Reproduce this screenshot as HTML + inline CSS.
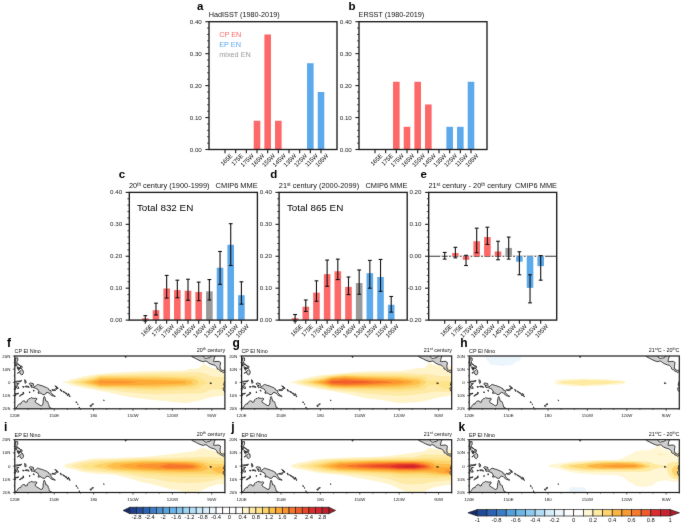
<!DOCTYPE html>
<html><head><meta charset="utf-8"><style>
html,body{margin:0;padding:0;background:#fff;}
body{width:685px;height:523px;overflow:hidden;}
svg{display:block;font-family:"Liberation Sans", sans-serif;will-change:transform;}
</style></head><body>
<svg width="685" height="523" viewBox="0 0 685 523">
<filter id="soft" x="0" y="0" width="100%" height="100%" color-interpolation-filters="sRGB"><feConvolveMatrix order="3" kernelMatrix="0.00524 0.06192 0.00524 0.06192 0.73137 0.06192 0.00524 0.06192 0.00524" edgeMode="duplicate" preserveAlpha="true"/></filter><g filter="url(#soft)"><rect width="685" height="523" fill="#fff"/>
<defs>
<clipPath id="mclip"><rect x="0" y="0" width="210.10" height="52.80"/></clipPath>
<g id="land"><path d="M-1.31,53.46 L-1.31,52.67 L0.00,52.40 L1.31,52.01 L2.36,50.69 L3.02,49.50 L3.94,48.31 L4.73,47.92 L5.78,48.05 L6.30,46.60 L7.62,45.41 L8.93,44.75 L10.24,45.28 L10.77,46.33 L11.82,46.07 L12.61,45.67 L12.47,44.35 L13.52,43.56 L14.31,42.64 L15.49,42.50 L16.41,41.58 L17.46,42.11 L18.65,42.24 L19.96,42.50 L21.01,42.11 L22.06,42.64 L21.80,43.82 L20.88,44.22 L20.35,45.54 L20.48,46.20 L21.67,46.99 L23.11,47.92 L24.29,48.58 L25.34,49.37 L26.52,49.76 L27.44,49.37 L28.10,48.05 L28.36,46.20 L28.36,44.09 L28.76,42.90 L29.02,41.18 L29.54,40.52 L30.07,41.45 L30.46,42.77 L30.86,44.35 L30.99,45.14 L32.17,45.14 L33.22,46.20 L33.35,47.52 L34.01,48.71 L34.27,49.76 L34.53,51.22 L36.11,52.01 L37.29,52.80 L38.08,53.46Z M14.44,27.72 L15.63,26.93 L17.07,27.32 L18.51,27.59 L18.65,29.30 L19.70,30.76 L20.48,30.36 L21.53,29.44 L22.72,28.51 L23.64,28.64 L24.95,29.17 L26.52,29.57 L27.58,29.83 L29.68,30.76 L31.51,31.42 L32.56,32.08 L33.88,32.87 L33.88,33.79 L34.93,34.32 L36.11,34.58 L36.64,35.11 L35.72,36.17 L36.64,37.09 L37.29,38.15 L38.47,38.94 L39.39,39.73 L40.57,40.39 L39.39,40.39 L38.74,40.00 L37.29,39.73 L35.98,38.81 L34.80,37.75 L34.14,36.96 L32.30,36.43 L31.25,36.96 L30.73,38.02 L29.68,38.68 L27.58,38.41 L26.39,37.09 L24.95,37.09 L23.64,37.49 L23.24,36.30 L24.42,36.04 L23.64,34.85 L22.85,33.26 L20.88,32.34 L19.17,31.68 L17.86,31.28 L16.94,31.81 L16.81,30.76 L15.76,30.10 L17.33,29.57 L16.02,29.30 L14.84,28.38Z M37.16,33.66 L38.34,33.79 L39.66,33.53 L40.71,33.00 L41.36,32.08 L42.28,31.94 L42.41,32.74 L41.49,33.66 L40.44,34.58 L38.74,34.58 L37.29,34.19Z M40.05,29.83 L41.10,30.23 L42.41,31.02 L43.33,32.34 L43.07,32.74 L42.15,31.68 L40.71,30.62Z M45.43,33.40 L46.35,33.79 L47.14,34.98 L46.62,35.51 L45.83,34.72Z M48.06,35.11 L49.64,35.90 L50.29,36.43 L49.37,36.56 L48.06,35.64Z M50.16,36.96 L51.60,37.09 L52.26,37.62 L51.08,37.75Z M52.00,38.68 L53.57,39.07 L53.31,39.47 L52.13,39.20Z M53.31,37.49 L54.23,38.15 L54.49,39.20 L53.71,38.68Z M54.23,39.86 L55.54,40.39 L55.15,40.66 L54.36,40.26Z M61.19,45.67 L61.98,46.20 L61.72,46.99 L61.19,46.46Z M62.77,47.78 L63.42,48.31 L63.03,48.71Z M64.21,50.95 L64.74,51.35 L64.60,52.01 L64.21,51.74Z M75.24,49.50 L76.16,49.24 L76.95,49.76 L76.42,50.56 L75.37,50.29Z M76.82,48.31 L78.13,47.78 L78.79,48.05 L77.87,48.71 L76.95,48.71Z M88.63,44.22 L89.55,44.35 L89.29,44.75Z M0.79,1.98 L1.71,1.85 L2.89,1.98 L3.02,3.70 L2.76,5.02 L2.10,5.68 L2.10,7.13 L2.89,7.79 L3.94,8.18 L5.38,9.77 L4.33,9.24 L3.41,8.58 L2.36,8.05 L1.31,8.18 L0.79,7.39 L0.79,6.86 L0.13,6.07 L-0.13,4.88 L0.53,4.88 L0.79,3.70Z M0.39,8.71 L1.58,8.71 L1.97,9.37 L1.58,10.16 L0.92,10.03Z M5.78,9.90 L6.96,10.03 L7.48,11.48 L6.70,11.88 L6.43,13.07 L5.78,12.41 L5.65,11.09Z M2.49,10.82 L3.68,11.09 L4.07,11.75 L3.28,12.54 L2.63,12.41Z M3.15,12.41 L4.20,12.01 L4.46,13.07 L4.07,14.39 L3.28,13.73Z M4.33,11.62 L5.25,12.41 L4.99,12.94 L4.33,12.41Z M2.63,17.16 L3.68,16.50 L4.60,15.58 L5.52,15.05 L6.30,14.52 L7.22,13.46 L8.14,14.26 L8.67,16.50 L8.14,17.95 L7.09,19.01 L5.52,17.95 L5.25,16.90 L4.46,16.10 L3.68,16.76 L2.76,17.29Z M-0.66,27.19 L-0.26,26.00 L0.79,25.34 L1.97,25.21 L3.68,25.21 L5.65,24.82 L6.83,24.29 L6.04,25.74 L4.20,25.74 L2.36,25.74 L1.31,26.80 L2.10,27.59 L4.20,27.59 L3.41,28.38 L1.84,29.04 L3.15,30.36 L4.07,32.34 L2.63,32.47 L1.71,31.94 L1.18,29.96 L0.53,30.10 L0.53,31.68 L0.66,33.66 L-0.66,33.79 L-0.79,32.34 L-0.53,31.02 L-1.44,29.96 L-0.92,28.78Z M9.98,23.63 L10.64,24.55 L11.42,25.08 L10.77,25.61 L11.69,26.14 L11.03,26.80 L10.50,27.46 L10.11,26.27 L9.85,25.08Z M10.50,30.23 L12.21,30.10 L13.92,30.49 L14.31,31.55 L12.47,30.89 L10.77,31.02Z M7.88,30.49 L9.45,30.76 L8.93,31.42 L8.01,31.15Z M4.60,40.00 L5.78,38.94 L6.83,38.28 L9.19,37.49 L8.54,38.15 L6.57,39.20 L5.25,40.13Z M0.00,37.75 L1.97,37.62 L3.81,37.09 L3.41,37.88 L1.31,38.15 L0.00,38.15Z M-0.79,38.81 L1.05,39.34 L0.53,40.00 L-0.66,39.34Z M7.88,36.43 L9.19,36.56 L8.54,36.96Z M14.58,35.77 L15.36,36.04 L14.71,36.96Z M18.65,34.06 L19.30,34.19 L19.17,35.38 L18.51,34.72Z M110.30,-0.53 L110.56,0.26 L111.61,0.79 L111.09,1.45 L110.43,1.06Z M175.30,-1.32 L176.87,0.00 L177.27,0.79 L178.58,1.45 L180.55,2.38 L181.86,3.04 L183.83,4.09 L186.46,5.15 L188.43,5.68 L190.14,5.15 L191.06,5.02 L192.37,5.68 L194.08,7.13 L195.91,8.05 L198.28,8.84 L199.99,9.24 L200.90,10.16 L202.22,11.48 L202.48,12.94 L203.53,13.60 L203.92,13.33 L205.11,14.26 L205.50,15.18 L207.08,15.58 L208.52,16.63 L209.44,15.97 L210.75,15.84 L211.41,13.99 L209.44,14.12 L208.13,14.52 L206.81,13.86 L205.76,13.20 L205.37,12.01 L205.24,10.56 L205.37,9.24 L205.63,7.92 L205.89,6.60 L204.19,5.41 L202.22,5.41 L199.59,5.68 L198.67,5.41 L199.07,4.62 L199.20,3.30 L199.59,1.98 L200.38,0.00 L200.77,-1.32 L196.44,-1.32 L196.44,0.00 L195.52,1.32 L194.47,1.85 L193.03,1.98 L191.71,2.38 L191.19,2.51 L189.74,1.85 L188.82,1.06 L188.56,0.00 L188.17,-1.32Z M211.41,24.42 L210.10,25.21 L209.44,26.40 L209.18,27.72 L208.91,29.30 L209.70,29.70 L210.23,30.36 L209.44,31.02 L208.65,31.94 L208.39,32.60 L208.65,33.13 L208.52,34.06 L209.31,34.85 L210.36,36.30 L211.41,37.62Z M195.26,26.66 L195.91,26.80 L195.65,27.72 L195.39,27.59Z M196.44,27.06 L196.83,27.19 L196.57,27.59Z" fill="#cfcfcf" stroke="#111" stroke-width="0.8" stroke-linejoin="round"/></g>
</defs>
<rect x="253.70" y="120.75" width="6.60" height="28.75" fill="#fd6868"/>
<rect x="264.37" y="34.48" width="6.60" height="115.02" fill="#fd6868"/>
<rect x="275.03" y="120.75" width="6.60" height="28.75" fill="#fd6868"/>
<rect x="307.03" y="63.23" width="6.60" height="86.27" fill="#5ca9ec"/>
<rect x="317.70" y="91.99" width="6.60" height="57.51" fill="#5ca9ec"/>
<rect x="209.00" y="21.70" width="128.00" height="127.80" fill="none" stroke="#1c1c1c" stroke-width="1.35"/>
<line x1="205.40" y1="149.50" x2="209.00" y2="149.50" stroke="#1c1c1c" stroke-width="1.1"/>
<text x="201.80" y="151.55" font-size="6.2" text-anchor="end" font-weight="normal" fill="#1a1a1a">0.00</text>
<line x1="207.10" y1="143.11" x2="209.00" y2="143.11" stroke="#1c1c1c" stroke-width="0.8"/>
<line x1="207.10" y1="136.72" x2="209.00" y2="136.72" stroke="#1c1c1c" stroke-width="0.8"/>
<line x1="207.10" y1="130.33" x2="209.00" y2="130.33" stroke="#1c1c1c" stroke-width="0.8"/>
<line x1="207.10" y1="123.94" x2="209.00" y2="123.94" stroke="#1c1c1c" stroke-width="0.8"/>
<line x1="205.40" y1="117.55" x2="209.00" y2="117.55" stroke="#1c1c1c" stroke-width="1.1"/>
<text x="201.80" y="119.60" font-size="6.2" text-anchor="end" font-weight="normal" fill="#1a1a1a">0.10</text>
<line x1="207.10" y1="111.16" x2="209.00" y2="111.16" stroke="#1c1c1c" stroke-width="0.8"/>
<line x1="207.10" y1="104.77" x2="209.00" y2="104.77" stroke="#1c1c1c" stroke-width="0.8"/>
<line x1="207.10" y1="98.38" x2="209.00" y2="98.38" stroke="#1c1c1c" stroke-width="0.8"/>
<line x1="207.10" y1="91.99" x2="209.00" y2="91.99" stroke="#1c1c1c" stroke-width="0.8"/>
<line x1="205.40" y1="85.60" x2="209.00" y2="85.60" stroke="#1c1c1c" stroke-width="1.1"/>
<text x="201.80" y="87.65" font-size="6.2" text-anchor="end" font-weight="normal" fill="#1a1a1a">0.20</text>
<line x1="207.10" y1="79.21" x2="209.00" y2="79.21" stroke="#1c1c1c" stroke-width="0.8"/>
<line x1="207.10" y1="72.82" x2="209.00" y2="72.82" stroke="#1c1c1c" stroke-width="0.8"/>
<line x1="207.10" y1="66.43" x2="209.00" y2="66.43" stroke="#1c1c1c" stroke-width="0.8"/>
<line x1="207.10" y1="60.04" x2="209.00" y2="60.04" stroke="#1c1c1c" stroke-width="0.8"/>
<line x1="205.40" y1="53.65" x2="209.00" y2="53.65" stroke="#1c1c1c" stroke-width="1.1"/>
<text x="201.80" y="55.70" font-size="6.2" text-anchor="end" font-weight="normal" fill="#1a1a1a">0.30</text>
<line x1="207.10" y1="47.26" x2="209.00" y2="47.26" stroke="#1c1c1c" stroke-width="0.8"/>
<line x1="207.10" y1="40.87" x2="209.00" y2="40.87" stroke="#1c1c1c" stroke-width="0.8"/>
<line x1="207.10" y1="34.48" x2="209.00" y2="34.48" stroke="#1c1c1c" stroke-width="0.8"/>
<line x1="207.10" y1="28.09" x2="209.00" y2="28.09" stroke="#1c1c1c" stroke-width="0.8"/>
<line x1="205.40" y1="21.70" x2="209.00" y2="21.70" stroke="#1c1c1c" stroke-width="1.1"/>
<text x="201.80" y="23.75" font-size="6.2" text-anchor="end" font-weight="normal" fill="#1a1a1a">0.40</text>
<line x1="225.00" y1="149.50" x2="225.00" y2="153.20" stroke="#1c1c1c" stroke-width="1.1"/>
<text x="232.90" y="156.20" font-size="6.0" text-anchor="end" fill="#000" transform="rotate(-45 232.90 156.20)">165E</text>
<line x1="235.67" y1="149.50" x2="235.67" y2="153.20" stroke="#1c1c1c" stroke-width="1.1"/>
<text x="243.57" y="156.20" font-size="6.0" text-anchor="end" fill="#000" transform="rotate(-45 243.57 156.20)">175E</text>
<line x1="246.33" y1="149.50" x2="246.33" y2="153.20" stroke="#1c1c1c" stroke-width="1.1"/>
<text x="254.23" y="156.20" font-size="6.0" text-anchor="end" fill="#000" transform="rotate(-45 254.23 156.20)">175W</text>
<line x1="257.00" y1="149.50" x2="257.00" y2="153.20" stroke="#1c1c1c" stroke-width="1.1"/>
<text x="264.90" y="156.20" font-size="6.0" text-anchor="end" fill="#000" transform="rotate(-45 264.90 156.20)">165W</text>
<line x1="267.67" y1="149.50" x2="267.67" y2="153.20" stroke="#1c1c1c" stroke-width="1.1"/>
<text x="275.57" y="156.20" font-size="6.0" text-anchor="end" fill="#000" transform="rotate(-45 275.57 156.20)">155W</text>
<line x1="278.33" y1="149.50" x2="278.33" y2="153.20" stroke="#1c1c1c" stroke-width="1.1"/>
<text x="286.23" y="156.20" font-size="6.0" text-anchor="end" fill="#000" transform="rotate(-45 286.23 156.20)">145W</text>
<line x1="289.00" y1="149.50" x2="289.00" y2="153.20" stroke="#1c1c1c" stroke-width="1.1"/>
<text x="296.90" y="156.20" font-size="6.0" text-anchor="end" fill="#000" transform="rotate(-45 296.90 156.20)">135W</text>
<line x1="299.67" y1="149.50" x2="299.67" y2="153.20" stroke="#1c1c1c" stroke-width="1.1"/>
<text x="307.57" y="156.20" font-size="6.0" text-anchor="end" fill="#000" transform="rotate(-45 307.57 156.20)">125W</text>
<line x1="310.33" y1="149.50" x2="310.33" y2="153.20" stroke="#1c1c1c" stroke-width="1.1"/>
<text x="318.23" y="156.20" font-size="6.0" text-anchor="end" fill="#000" transform="rotate(-45 318.23 156.20)">115W</text>
<line x1="321.00" y1="149.50" x2="321.00" y2="153.20" stroke="#1c1c1c" stroke-width="1.1"/>
<text x="328.90" y="156.20" font-size="6.0" text-anchor="end" fill="#000" transform="rotate(-45 328.90 156.20)">105W</text>
<text x="197.00" y="10.20" font-size="11.5" text-anchor="start" font-weight="bold" fill="#000">a</text>
<text x="208.70" y="17.40" font-size="7.28" text-anchor="start" font-weight="normal" fill="#111">HadISST (1980-2019)</text>
<text x="219.20" y="37.40" font-size="7.3" text-anchor="start" font-weight="normal" fill="#fd6868">CP EN</text>
<text x="219.20" y="46.80" font-size="7.3" text-anchor="start" font-weight="normal" fill="#5ca9ec">EP EN</text>
<text x="219.20" y="56.60" font-size="7.3" text-anchor="start" font-weight="normal" fill="#9a9a9a">mixed EN</text>
<rect x="393.03" y="81.77" width="6.60" height="67.73" fill="#fd6868"/>
<rect x="403.70" y="126.82" width="6.60" height="22.68" fill="#fd6868"/>
<rect x="414.37" y="81.77" width="6.60" height="67.73" fill="#fd6868"/>
<rect x="425.03" y="104.45" width="6.60" height="45.05" fill="#fd6868"/>
<rect x="446.37" y="126.82" width="6.60" height="22.68" fill="#5ca9ec"/>
<rect x="457.03" y="126.82" width="6.60" height="22.68" fill="#5ca9ec"/>
<rect x="467.70" y="81.77" width="6.60" height="67.73" fill="#5ca9ec"/>
<rect x="359.00" y="21.70" width="128.00" height="127.80" fill="none" stroke="#1c1c1c" stroke-width="1.35"/>
<line x1="355.40" y1="149.50" x2="359.00" y2="149.50" stroke="#1c1c1c" stroke-width="1.1"/>
<text x="351.80" y="151.55" font-size="6.2" text-anchor="end" font-weight="normal" fill="#1a1a1a">0.00</text>
<line x1="357.10" y1="143.11" x2="359.00" y2="143.11" stroke="#1c1c1c" stroke-width="0.8"/>
<line x1="357.10" y1="136.72" x2="359.00" y2="136.72" stroke="#1c1c1c" stroke-width="0.8"/>
<line x1="357.10" y1="130.33" x2="359.00" y2="130.33" stroke="#1c1c1c" stroke-width="0.8"/>
<line x1="357.10" y1="123.94" x2="359.00" y2="123.94" stroke="#1c1c1c" stroke-width="0.8"/>
<line x1="355.40" y1="117.55" x2="359.00" y2="117.55" stroke="#1c1c1c" stroke-width="1.1"/>
<text x="351.80" y="119.60" font-size="6.2" text-anchor="end" font-weight="normal" fill="#1a1a1a">0.10</text>
<line x1="357.10" y1="111.16" x2="359.00" y2="111.16" stroke="#1c1c1c" stroke-width="0.8"/>
<line x1="357.10" y1="104.77" x2="359.00" y2="104.77" stroke="#1c1c1c" stroke-width="0.8"/>
<line x1="357.10" y1="98.38" x2="359.00" y2="98.38" stroke="#1c1c1c" stroke-width="0.8"/>
<line x1="357.10" y1="91.99" x2="359.00" y2="91.99" stroke="#1c1c1c" stroke-width="0.8"/>
<line x1="355.40" y1="85.60" x2="359.00" y2="85.60" stroke="#1c1c1c" stroke-width="1.1"/>
<text x="351.80" y="87.65" font-size="6.2" text-anchor="end" font-weight="normal" fill="#1a1a1a">0.20</text>
<line x1="357.10" y1="79.21" x2="359.00" y2="79.21" stroke="#1c1c1c" stroke-width="0.8"/>
<line x1="357.10" y1="72.82" x2="359.00" y2="72.82" stroke="#1c1c1c" stroke-width="0.8"/>
<line x1="357.10" y1="66.43" x2="359.00" y2="66.43" stroke="#1c1c1c" stroke-width="0.8"/>
<line x1="357.10" y1="60.04" x2="359.00" y2="60.04" stroke="#1c1c1c" stroke-width="0.8"/>
<line x1="355.40" y1="53.65" x2="359.00" y2="53.65" stroke="#1c1c1c" stroke-width="1.1"/>
<text x="351.80" y="55.70" font-size="6.2" text-anchor="end" font-weight="normal" fill="#1a1a1a">0.30</text>
<line x1="357.10" y1="47.26" x2="359.00" y2="47.26" stroke="#1c1c1c" stroke-width="0.8"/>
<line x1="357.10" y1="40.87" x2="359.00" y2="40.87" stroke="#1c1c1c" stroke-width="0.8"/>
<line x1="357.10" y1="34.48" x2="359.00" y2="34.48" stroke="#1c1c1c" stroke-width="0.8"/>
<line x1="357.10" y1="28.09" x2="359.00" y2="28.09" stroke="#1c1c1c" stroke-width="0.8"/>
<line x1="355.40" y1="21.70" x2="359.00" y2="21.70" stroke="#1c1c1c" stroke-width="1.1"/>
<text x="351.80" y="23.75" font-size="6.2" text-anchor="end" font-weight="normal" fill="#1a1a1a">0.40</text>
<line x1="375.00" y1="149.50" x2="375.00" y2="153.20" stroke="#1c1c1c" stroke-width="1.1"/>
<text x="382.90" y="156.20" font-size="6.0" text-anchor="end" fill="#000" transform="rotate(-45 382.90 156.20)">165E</text>
<line x1="385.67" y1="149.50" x2="385.67" y2="153.20" stroke="#1c1c1c" stroke-width="1.1"/>
<text x="393.57" y="156.20" font-size="6.0" text-anchor="end" fill="#000" transform="rotate(-45 393.57 156.20)">175E</text>
<line x1="396.33" y1="149.50" x2="396.33" y2="153.20" stroke="#1c1c1c" stroke-width="1.1"/>
<text x="404.23" y="156.20" font-size="6.0" text-anchor="end" fill="#000" transform="rotate(-45 404.23 156.20)">175W</text>
<line x1="407.00" y1="149.50" x2="407.00" y2="153.20" stroke="#1c1c1c" stroke-width="1.1"/>
<text x="414.90" y="156.20" font-size="6.0" text-anchor="end" fill="#000" transform="rotate(-45 414.90 156.20)">165W</text>
<line x1="417.67" y1="149.50" x2="417.67" y2="153.20" stroke="#1c1c1c" stroke-width="1.1"/>
<text x="425.57" y="156.20" font-size="6.0" text-anchor="end" fill="#000" transform="rotate(-45 425.57 156.20)">155W</text>
<line x1="428.33" y1="149.50" x2="428.33" y2="153.20" stroke="#1c1c1c" stroke-width="1.1"/>
<text x="436.23" y="156.20" font-size="6.0" text-anchor="end" fill="#000" transform="rotate(-45 436.23 156.20)">145W</text>
<line x1="439.00" y1="149.50" x2="439.00" y2="153.20" stroke="#1c1c1c" stroke-width="1.1"/>
<text x="446.90" y="156.20" font-size="6.0" text-anchor="end" fill="#000" transform="rotate(-45 446.90 156.20)">135W</text>
<line x1="449.67" y1="149.50" x2="449.67" y2="153.20" stroke="#1c1c1c" stroke-width="1.1"/>
<text x="457.57" y="156.20" font-size="6.0" text-anchor="end" fill="#000" transform="rotate(-45 457.57 156.20)">125W</text>
<line x1="460.33" y1="149.50" x2="460.33" y2="153.20" stroke="#1c1c1c" stroke-width="1.1"/>
<text x="468.23" y="156.20" font-size="6.0" text-anchor="end" fill="#000" transform="rotate(-45 468.23 156.20)">115W</text>
<line x1="471.00" y1="149.50" x2="471.00" y2="153.20" stroke="#1c1c1c" stroke-width="1.1"/>
<text x="478.90" y="156.20" font-size="6.0" text-anchor="end" fill="#000" transform="rotate(-45 478.90 156.20)">105W</text>
<text x="348.40" y="10.20" font-size="11.5" text-anchor="start" font-weight="bold" fill="#000">b</text>
<text x="358.60" y="17.40" font-size="7.28" text-anchor="start" font-weight="normal" fill="#111">ERSST (1980-2019)</text>
<rect x="142.00" y="318.31" width="6.60" height="1.79" fill="#fd6868"/>
<rect x="152.68" y="310.20" width="6.60" height="9.90" fill="#fd6868"/>
<rect x="163.36" y="288.49" width="6.60" height="31.61" fill="#fd6868"/>
<rect x="174.03" y="290.09" width="6.60" height="30.01" fill="#fd6868"/>
<rect x="184.71" y="290.73" width="6.60" height="29.37" fill="#fd6868"/>
<rect x="195.39" y="292.01" width="6.60" height="28.09" fill="#fd6868"/>
<rect x="206.07" y="291.37" width="6.60" height="28.73" fill="#9a9a9a"/>
<rect x="216.74" y="267.74" width="6.60" height="52.36" fill="#5ca9ec"/>
<rect x="227.42" y="244.76" width="6.60" height="75.34" fill="#5ca9ec"/>
<rect x="238.10" y="295.20" width="6.60" height="24.90" fill="#5ca9ec"/>
<line x1="145.30" y1="321.06" x2="145.30" y2="315.63" stroke="#111" stroke-width="1.1"/>
<line x1="143.40" y1="321.06" x2="147.20" y2="321.06" stroke="#111" stroke-width="1.1"/>
<line x1="143.40" y1="315.63" x2="147.20" y2="315.63" stroke="#111" stroke-width="1.1"/>
<line x1="155.98" y1="314.99" x2="155.98" y2="303.18" stroke="#111" stroke-width="1.1"/>
<line x1="154.08" y1="314.99" x2="157.88" y2="314.99" stroke="#111" stroke-width="1.1"/>
<line x1="154.08" y1="303.18" x2="157.88" y2="303.18" stroke="#111" stroke-width="1.1"/>
<line x1="166.66" y1="298.07" x2="166.66" y2="275.41" stroke="#111" stroke-width="1.1"/>
<line x1="164.76" y1="298.07" x2="168.56" y2="298.07" stroke="#111" stroke-width="1.1"/>
<line x1="164.76" y1="275.41" x2="168.56" y2="275.41" stroke="#111" stroke-width="1.1"/>
<line x1="177.33" y1="297.75" x2="177.33" y2="280.19" stroke="#111" stroke-width="1.1"/>
<line x1="175.43" y1="297.75" x2="179.23" y2="297.75" stroke="#111" stroke-width="1.1"/>
<line x1="175.43" y1="280.19" x2="179.23" y2="280.19" stroke="#111" stroke-width="1.1"/>
<line x1="188.01" y1="300.31" x2="188.01" y2="279.24" stroke="#111" stroke-width="1.1"/>
<line x1="186.11" y1="300.31" x2="189.91" y2="300.31" stroke="#111" stroke-width="1.1"/>
<line x1="186.11" y1="279.24" x2="189.91" y2="279.24" stroke="#111" stroke-width="1.1"/>
<line x1="198.69" y1="300.63" x2="198.69" y2="282.11" stroke="#111" stroke-width="1.1"/>
<line x1="196.79" y1="300.63" x2="200.59" y2="300.63" stroke="#111" stroke-width="1.1"/>
<line x1="196.79" y1="282.11" x2="200.59" y2="282.11" stroke="#111" stroke-width="1.1"/>
<line x1="209.37" y1="299.99" x2="209.37" y2="279.56" stroke="#111" stroke-width="1.1"/>
<line x1="207.47" y1="299.99" x2="211.27" y2="299.99" stroke="#111" stroke-width="1.1"/>
<line x1="207.47" y1="279.56" x2="211.27" y2="279.56" stroke="#111" stroke-width="1.1"/>
<line x1="220.04" y1="284.34" x2="220.04" y2="251.46" stroke="#111" stroke-width="1.1"/>
<line x1="218.14" y1="284.34" x2="221.94" y2="284.34" stroke="#111" stroke-width="1.1"/>
<line x1="218.14" y1="251.46" x2="221.94" y2="251.46" stroke="#111" stroke-width="1.1"/>
<line x1="230.72" y1="265.51" x2="230.72" y2="223.69" stroke="#111" stroke-width="1.1"/>
<line x1="228.82" y1="265.51" x2="232.62" y2="265.51" stroke="#111" stroke-width="1.1"/>
<line x1="228.82" y1="223.69" x2="232.62" y2="223.69" stroke="#111" stroke-width="1.1"/>
<line x1="241.40" y1="304.14" x2="241.40" y2="281.79" stroke="#111" stroke-width="1.1"/>
<line x1="239.50" y1="304.14" x2="243.30" y2="304.14" stroke="#111" stroke-width="1.1"/>
<line x1="239.50" y1="281.79" x2="243.30" y2="281.79" stroke="#111" stroke-width="1.1"/>
<rect x="129.30" y="192.40" width="128.10" height="127.70" fill="none" stroke="#1c1c1c" stroke-width="1.35"/>
<line x1="125.70" y1="320.10" x2="129.30" y2="320.10" stroke="#1c1c1c" stroke-width="1.1"/>
<text x="122.10" y="322.15" font-size="6.2" text-anchor="end" font-weight="normal" fill="#1a1a1a">0.00</text>
<line x1="127.40" y1="313.72" x2="129.30" y2="313.72" stroke="#1c1c1c" stroke-width="0.8"/>
<line x1="127.40" y1="307.33" x2="129.30" y2="307.33" stroke="#1c1c1c" stroke-width="0.8"/>
<line x1="127.40" y1="300.95" x2="129.30" y2="300.95" stroke="#1c1c1c" stroke-width="0.8"/>
<line x1="127.40" y1="294.56" x2="129.30" y2="294.56" stroke="#1c1c1c" stroke-width="0.8"/>
<line x1="125.70" y1="288.18" x2="129.30" y2="288.18" stroke="#1c1c1c" stroke-width="1.1"/>
<text x="122.10" y="290.23" font-size="6.2" text-anchor="end" font-weight="normal" fill="#1a1a1a">0.10</text>
<line x1="127.40" y1="281.79" x2="129.30" y2="281.79" stroke="#1c1c1c" stroke-width="0.8"/>
<line x1="127.40" y1="275.41" x2="129.30" y2="275.41" stroke="#1c1c1c" stroke-width="0.8"/>
<line x1="127.40" y1="269.02" x2="129.30" y2="269.02" stroke="#1c1c1c" stroke-width="0.8"/>
<line x1="127.40" y1="262.64" x2="129.30" y2="262.64" stroke="#1c1c1c" stroke-width="0.8"/>
<line x1="125.70" y1="256.25" x2="129.30" y2="256.25" stroke="#1c1c1c" stroke-width="1.1"/>
<text x="122.10" y="258.30" font-size="6.2" text-anchor="end" font-weight="normal" fill="#1a1a1a">0.20</text>
<line x1="127.40" y1="249.87" x2="129.30" y2="249.87" stroke="#1c1c1c" stroke-width="0.8"/>
<line x1="127.40" y1="243.48" x2="129.30" y2="243.48" stroke="#1c1c1c" stroke-width="0.8"/>
<line x1="127.40" y1="237.10" x2="129.30" y2="237.10" stroke="#1c1c1c" stroke-width="0.8"/>
<line x1="127.40" y1="230.71" x2="129.30" y2="230.71" stroke="#1c1c1c" stroke-width="0.8"/>
<line x1="125.70" y1="224.33" x2="129.30" y2="224.33" stroke="#1c1c1c" stroke-width="1.1"/>
<text x="122.10" y="226.38" font-size="6.2" text-anchor="end" font-weight="normal" fill="#1a1a1a">0.30</text>
<line x1="127.40" y1="217.94" x2="129.30" y2="217.94" stroke="#1c1c1c" stroke-width="0.8"/>
<line x1="127.40" y1="211.56" x2="129.30" y2="211.56" stroke="#1c1c1c" stroke-width="0.8"/>
<line x1="127.40" y1="205.17" x2="129.30" y2="205.17" stroke="#1c1c1c" stroke-width="0.8"/>
<line x1="127.40" y1="198.79" x2="129.30" y2="198.79" stroke="#1c1c1c" stroke-width="0.8"/>
<line x1="125.70" y1="192.40" x2="129.30" y2="192.40" stroke="#1c1c1c" stroke-width="1.1"/>
<text x="122.10" y="194.45" font-size="6.2" text-anchor="end" font-weight="normal" fill="#1a1a1a">0.40</text>
<line x1="145.30" y1="320.10" x2="145.30" y2="323.80" stroke="#1c1c1c" stroke-width="1.1"/>
<text x="153.20" y="326.80" font-size="6.0" text-anchor="end" fill="#000" transform="rotate(-45 153.20 326.80)">165E</text>
<line x1="155.98" y1="320.10" x2="155.98" y2="323.80" stroke="#1c1c1c" stroke-width="1.1"/>
<text x="163.88" y="326.80" font-size="6.0" text-anchor="end" fill="#000" transform="rotate(-45 163.88 326.80)">175E</text>
<line x1="166.66" y1="320.10" x2="166.66" y2="323.80" stroke="#1c1c1c" stroke-width="1.1"/>
<text x="174.56" y="326.80" font-size="6.0" text-anchor="end" fill="#000" transform="rotate(-45 174.56 326.80)">175W</text>
<line x1="177.33" y1="320.10" x2="177.33" y2="323.80" stroke="#1c1c1c" stroke-width="1.1"/>
<text x="185.23" y="326.80" font-size="6.0" text-anchor="end" fill="#000" transform="rotate(-45 185.23 326.80)">165W</text>
<line x1="188.01" y1="320.10" x2="188.01" y2="323.80" stroke="#1c1c1c" stroke-width="1.1"/>
<text x="195.91" y="326.80" font-size="6.0" text-anchor="end" fill="#000" transform="rotate(-45 195.91 326.80)">155W</text>
<line x1="198.69" y1="320.10" x2="198.69" y2="323.80" stroke="#1c1c1c" stroke-width="1.1"/>
<text x="206.59" y="326.80" font-size="6.0" text-anchor="end" fill="#000" transform="rotate(-45 206.59 326.80)">145W</text>
<line x1="209.37" y1="320.10" x2="209.37" y2="323.80" stroke="#1c1c1c" stroke-width="1.1"/>
<text x="217.27" y="326.80" font-size="6.0" text-anchor="end" fill="#000" transform="rotate(-45 217.27 326.80)">135W</text>
<line x1="220.04" y1="320.10" x2="220.04" y2="323.80" stroke="#1c1c1c" stroke-width="1.1"/>
<text x="227.94" y="326.80" font-size="6.0" text-anchor="end" fill="#000" transform="rotate(-45 227.94 326.80)">125W</text>
<line x1="230.72" y1="320.10" x2="230.72" y2="323.80" stroke="#1c1c1c" stroke-width="1.1"/>
<text x="238.62" y="326.80" font-size="6.0" text-anchor="end" fill="#000" transform="rotate(-45 238.62 326.80)">115W</text>
<line x1="241.40" y1="320.10" x2="241.40" y2="323.80" stroke="#1c1c1c" stroke-width="1.1"/>
<text x="249.30" y="326.80" font-size="6.0" text-anchor="end" fill="#000" transform="rotate(-45 249.30 326.80)">105W</text>
<text x="118.80" y="178.20" font-size="11.5" text-anchor="start" font-weight="bold" fill="#000">c</text>
<text x="128.90" y="188.30" font-size="7.38" text-anchor="start" font-weight="normal" fill="#111">20<tspan font-size="4.7" dy="-2.7">th</tspan><tspan dy="2.7"> century (1900-1999)</tspan></text>
<text x="257.60" y="188.30" font-size="7.42" text-anchor="end" font-weight="normal" fill="#111">CMIP6 MME</text>
<text x="136.90" y="210.70" font-size="9.85" text-anchor="start" font-weight="normal" fill="#000">Total 832 EN</text>
<rect x="291.80" y="318.18" width="6.60" height="1.92" fill="#fd6868"/>
<rect x="302.48" y="306.69" width="6.60" height="13.41" fill="#fd6868"/>
<rect x="313.16" y="292.64" width="6.60" height="27.46" fill="#fd6868"/>
<rect x="323.83" y="274.13" width="6.60" height="45.97" fill="#fd6868"/>
<rect x="334.51" y="271.25" width="6.60" height="48.85" fill="#fd6868"/>
<rect x="345.19" y="286.90" width="6.60" height="33.20" fill="#fd6868"/>
<rect x="355.87" y="283.07" width="6.60" height="37.03" fill="#9a9a9a"/>
<rect x="366.54" y="273.17" width="6.60" height="46.93" fill="#5ca9ec"/>
<rect x="377.22" y="277.00" width="6.60" height="43.10" fill="#5ca9ec"/>
<rect x="387.90" y="304.78" width="6.60" height="15.32" fill="#5ca9ec"/>
<line x1="295.10" y1="321.06" x2="295.10" y2="314.51" stroke="#111" stroke-width="1.1"/>
<line x1="293.20" y1="321.06" x2="297.00" y2="321.06" stroke="#111" stroke-width="1.1"/>
<line x1="293.20" y1="314.51" x2="297.00" y2="314.51" stroke="#111" stroke-width="1.1"/>
<line x1="305.78" y1="311.48" x2="305.78" y2="299.99" stroke="#111" stroke-width="1.1"/>
<line x1="303.88" y1="311.48" x2="307.68" y2="311.48" stroke="#111" stroke-width="1.1"/>
<line x1="303.88" y1="299.99" x2="307.68" y2="299.99" stroke="#111" stroke-width="1.1"/>
<line x1="316.46" y1="301.26" x2="316.46" y2="280.83" stroke="#111" stroke-width="1.1"/>
<line x1="314.56" y1="301.26" x2="318.36" y2="301.26" stroke="#111" stroke-width="1.1"/>
<line x1="314.56" y1="280.83" x2="318.36" y2="280.83" stroke="#111" stroke-width="1.1"/>
<line x1="327.13" y1="286.26" x2="327.13" y2="260.08" stroke="#111" stroke-width="1.1"/>
<line x1="325.23" y1="286.26" x2="329.03" y2="286.26" stroke="#111" stroke-width="1.1"/>
<line x1="325.23" y1="260.08" x2="329.03" y2="260.08" stroke="#111" stroke-width="1.1"/>
<line x1="337.81" y1="279.56" x2="337.81" y2="259.12" stroke="#111" stroke-width="1.1"/>
<line x1="335.91" y1="279.56" x2="339.71" y2="279.56" stroke="#111" stroke-width="1.1"/>
<line x1="335.91" y1="259.12" x2="339.71" y2="259.12" stroke="#111" stroke-width="1.1"/>
<line x1="348.49" y1="294.56" x2="348.49" y2="277.00" stroke="#111" stroke-width="1.1"/>
<line x1="346.59" y1="294.56" x2="350.39" y2="294.56" stroke="#111" stroke-width="1.1"/>
<line x1="346.59" y1="277.00" x2="350.39" y2="277.00" stroke="#111" stroke-width="1.1"/>
<line x1="359.17" y1="294.24" x2="359.17" y2="269.98" stroke="#111" stroke-width="1.1"/>
<line x1="357.27" y1="294.24" x2="361.07" y2="294.24" stroke="#111" stroke-width="1.1"/>
<line x1="357.27" y1="269.98" x2="361.07" y2="269.98" stroke="#111" stroke-width="1.1"/>
<line x1="369.84" y1="288.18" x2="369.84" y2="260.40" stroke="#111" stroke-width="1.1"/>
<line x1="367.94" y1="288.18" x2="371.74" y2="288.18" stroke="#111" stroke-width="1.1"/>
<line x1="367.94" y1="260.40" x2="371.74" y2="260.40" stroke="#111" stroke-width="1.1"/>
<line x1="380.52" y1="291.37" x2="380.52" y2="259.44" stroke="#111" stroke-width="1.1"/>
<line x1="378.62" y1="291.37" x2="382.42" y2="291.37" stroke="#111" stroke-width="1.1"/>
<line x1="378.62" y1="259.44" x2="382.42" y2="259.44" stroke="#111" stroke-width="1.1"/>
<line x1="391.20" y1="312.12" x2="391.20" y2="296.48" stroke="#111" stroke-width="1.1"/>
<line x1="389.30" y1="312.12" x2="393.10" y2="312.12" stroke="#111" stroke-width="1.1"/>
<line x1="389.30" y1="296.48" x2="393.10" y2="296.48" stroke="#111" stroke-width="1.1"/>
<rect x="279.10" y="192.40" width="128.10" height="127.70" fill="none" stroke="#1c1c1c" stroke-width="1.35"/>
<line x1="275.50" y1="320.10" x2="279.10" y2="320.10" stroke="#1c1c1c" stroke-width="1.1"/>
<text x="271.90" y="322.15" font-size="6.2" text-anchor="end" font-weight="normal" fill="#1a1a1a">0.00</text>
<line x1="277.20" y1="313.72" x2="279.10" y2="313.72" stroke="#1c1c1c" stroke-width="0.8"/>
<line x1="277.20" y1="307.33" x2="279.10" y2="307.33" stroke="#1c1c1c" stroke-width="0.8"/>
<line x1="277.20" y1="300.95" x2="279.10" y2="300.95" stroke="#1c1c1c" stroke-width="0.8"/>
<line x1="277.20" y1="294.56" x2="279.10" y2="294.56" stroke="#1c1c1c" stroke-width="0.8"/>
<line x1="275.50" y1="288.18" x2="279.10" y2="288.18" stroke="#1c1c1c" stroke-width="1.1"/>
<text x="271.90" y="290.23" font-size="6.2" text-anchor="end" font-weight="normal" fill="#1a1a1a">0.10</text>
<line x1="277.20" y1="281.79" x2="279.10" y2="281.79" stroke="#1c1c1c" stroke-width="0.8"/>
<line x1="277.20" y1="275.41" x2="279.10" y2="275.41" stroke="#1c1c1c" stroke-width="0.8"/>
<line x1="277.20" y1="269.02" x2="279.10" y2="269.02" stroke="#1c1c1c" stroke-width="0.8"/>
<line x1="277.20" y1="262.64" x2="279.10" y2="262.64" stroke="#1c1c1c" stroke-width="0.8"/>
<line x1="275.50" y1="256.25" x2="279.10" y2="256.25" stroke="#1c1c1c" stroke-width="1.1"/>
<text x="271.90" y="258.30" font-size="6.2" text-anchor="end" font-weight="normal" fill="#1a1a1a">0.20</text>
<line x1="277.20" y1="249.87" x2="279.10" y2="249.87" stroke="#1c1c1c" stroke-width="0.8"/>
<line x1="277.20" y1="243.48" x2="279.10" y2="243.48" stroke="#1c1c1c" stroke-width="0.8"/>
<line x1="277.20" y1="237.10" x2="279.10" y2="237.10" stroke="#1c1c1c" stroke-width="0.8"/>
<line x1="277.20" y1="230.71" x2="279.10" y2="230.71" stroke="#1c1c1c" stroke-width="0.8"/>
<line x1="275.50" y1="224.33" x2="279.10" y2="224.33" stroke="#1c1c1c" stroke-width="1.1"/>
<text x="271.90" y="226.38" font-size="6.2" text-anchor="end" font-weight="normal" fill="#1a1a1a">0.30</text>
<line x1="277.20" y1="217.94" x2="279.10" y2="217.94" stroke="#1c1c1c" stroke-width="0.8"/>
<line x1="277.20" y1="211.56" x2="279.10" y2="211.56" stroke="#1c1c1c" stroke-width="0.8"/>
<line x1="277.20" y1="205.17" x2="279.10" y2="205.17" stroke="#1c1c1c" stroke-width="0.8"/>
<line x1="277.20" y1="198.79" x2="279.10" y2="198.79" stroke="#1c1c1c" stroke-width="0.8"/>
<line x1="275.50" y1="192.40" x2="279.10" y2="192.40" stroke="#1c1c1c" stroke-width="1.1"/>
<text x="271.90" y="194.45" font-size="6.2" text-anchor="end" font-weight="normal" fill="#1a1a1a">0.40</text>
<line x1="295.10" y1="320.10" x2="295.10" y2="323.80" stroke="#1c1c1c" stroke-width="1.1"/>
<text x="303.00" y="326.80" font-size="6.0" text-anchor="end" fill="#000" transform="rotate(-45 303.00 326.80)">165E</text>
<line x1="305.78" y1="320.10" x2="305.78" y2="323.80" stroke="#1c1c1c" stroke-width="1.1"/>
<text x="313.68" y="326.80" font-size="6.0" text-anchor="end" fill="#000" transform="rotate(-45 313.68 326.80)">175E</text>
<line x1="316.46" y1="320.10" x2="316.46" y2="323.80" stroke="#1c1c1c" stroke-width="1.1"/>
<text x="324.36" y="326.80" font-size="6.0" text-anchor="end" fill="#000" transform="rotate(-45 324.36 326.80)">175W</text>
<line x1="327.13" y1="320.10" x2="327.13" y2="323.80" stroke="#1c1c1c" stroke-width="1.1"/>
<text x="335.03" y="326.80" font-size="6.0" text-anchor="end" fill="#000" transform="rotate(-45 335.03 326.80)">165W</text>
<line x1="337.81" y1="320.10" x2="337.81" y2="323.80" stroke="#1c1c1c" stroke-width="1.1"/>
<text x="345.71" y="326.80" font-size="6.0" text-anchor="end" fill="#000" transform="rotate(-45 345.71 326.80)">155W</text>
<line x1="348.49" y1="320.10" x2="348.49" y2="323.80" stroke="#1c1c1c" stroke-width="1.1"/>
<text x="356.39" y="326.80" font-size="6.0" text-anchor="end" fill="#000" transform="rotate(-45 356.39 326.80)">145W</text>
<line x1="359.17" y1="320.10" x2="359.17" y2="323.80" stroke="#1c1c1c" stroke-width="1.1"/>
<text x="367.07" y="326.80" font-size="6.0" text-anchor="end" fill="#000" transform="rotate(-45 367.07 326.80)">135W</text>
<line x1="369.84" y1="320.10" x2="369.84" y2="323.80" stroke="#1c1c1c" stroke-width="1.1"/>
<text x="377.74" y="326.80" font-size="6.0" text-anchor="end" fill="#000" transform="rotate(-45 377.74 326.80)">125W</text>
<line x1="380.52" y1="320.10" x2="380.52" y2="323.80" stroke="#1c1c1c" stroke-width="1.1"/>
<text x="388.42" y="326.80" font-size="6.0" text-anchor="end" fill="#000" transform="rotate(-45 388.42 326.80)">115W</text>
<line x1="391.20" y1="320.10" x2="391.20" y2="323.80" stroke="#1c1c1c" stroke-width="1.1"/>
<text x="399.10" y="326.80" font-size="6.0" text-anchor="end" fill="#000" transform="rotate(-45 399.10 326.80)">105W</text>
<text x="270.30" y="178.20" font-size="11.5" text-anchor="start" font-weight="bold" fill="#000">d</text>
<text x="278.80" y="188.30" font-size="7.38" text-anchor="start" font-weight="normal" fill="#111">21<tspan font-size="4.7" dy="-2.7">st</tspan><tspan dy="2.7"> century (2000-2099)</tspan></text>
<text x="407.40" y="188.30" font-size="7.42" text-anchor="end" font-weight="normal" fill="#111">CMIP6 MME</text>
<text x="286.90" y="210.70" font-size="9.85" text-anchor="start" font-weight="normal" fill="#000">Total 865 EN</text>
<line x1="428.70" y1="256.25" x2="556.70" y2="256.25" stroke="#1c1c1c" stroke-width="0.9"/>
<rect x="441.40" y="256.25" width="6.60" height="0.00" fill="#fd6868"/>
<rect x="452.07" y="253.06" width="6.60" height="3.19" fill="#fd6868"/>
<rect x="462.73" y="256.25" width="6.60" height="3.51" fill="#fd6868"/>
<rect x="473.40" y="241.25" width="6.60" height="15.00" fill="#fd6868"/>
<rect x="484.07" y="237.10" width="6.60" height="19.15" fill="#fd6868"/>
<rect x="494.73" y="251.46" width="6.60" height="4.79" fill="#fd6868"/>
<rect x="505.40" y="247.95" width="6.60" height="8.30" fill="#9a9a9a"/>
<rect x="516.07" y="256.25" width="6.60" height="5.43" fill="#5ca9ec"/>
<rect x="526.73" y="256.25" width="6.60" height="31.61" fill="#5ca9ec"/>
<rect x="537.40" y="256.25" width="6.60" height="9.90" fill="#5ca9ec"/>
<rect x="440.30" y="255.45" width="1.4" height="1.6" fill="#fff"/>
<rect x="447.70" y="255.45" width="1.4" height="1.6" fill="#fff"/>
<rect x="450.97" y="255.45" width="1.4" height="1.6" fill="#fff"/>
<rect x="458.37" y="255.45" width="1.4" height="1.6" fill="#fff"/>
<rect x="461.63" y="255.45" width="1.4" height="1.6" fill="#fff"/>
<rect x="469.03" y="255.45" width="1.4" height="1.6" fill="#fff"/>
<rect x="472.30" y="255.45" width="1.4" height="1.6" fill="#fff"/>
<rect x="479.70" y="255.45" width="1.4" height="1.6" fill="#fff"/>
<rect x="482.97" y="255.45" width="1.4" height="1.6" fill="#fff"/>
<rect x="490.37" y="255.45" width="1.4" height="1.6" fill="#fff"/>
<rect x="493.63" y="255.45" width="1.4" height="1.6" fill="#fff"/>
<rect x="501.03" y="255.45" width="1.4" height="1.6" fill="#fff"/>
<rect x="504.30" y="255.45" width="1.4" height="1.6" fill="#fff"/>
<rect x="511.70" y="255.45" width="1.4" height="1.6" fill="#fff"/>
<rect x="514.97" y="255.45" width="1.4" height="1.6" fill="#fff"/>
<rect x="522.37" y="255.45" width="1.4" height="1.6" fill="#fff"/>
<rect x="525.63" y="255.45" width="1.4" height="1.6" fill="#fff"/>
<rect x="533.03" y="255.45" width="1.4" height="1.6" fill="#fff"/>
<rect x="536.30" y="255.45" width="1.4" height="1.6" fill="#fff"/>
<rect x="543.70" y="255.45" width="1.4" height="1.6" fill="#fff"/>
<line x1="444.70" y1="259.12" x2="444.70" y2="252.42" stroke="#111" stroke-width="1.1"/>
<line x1="442.80" y1="259.12" x2="446.60" y2="259.12" stroke="#111" stroke-width="1.1"/>
<line x1="442.80" y1="252.42" x2="446.60" y2="252.42" stroke="#111" stroke-width="1.1"/>
<line x1="455.37" y1="257.85" x2="455.37" y2="247.31" stroke="#111" stroke-width="1.1"/>
<line x1="453.47" y1="257.85" x2="457.27" y2="257.85" stroke="#111" stroke-width="1.1"/>
<line x1="453.47" y1="247.31" x2="457.27" y2="247.31" stroke="#111" stroke-width="1.1"/>
<line x1="466.03" y1="265.51" x2="466.03" y2="255.29" stroke="#111" stroke-width="1.1"/>
<line x1="464.13" y1="265.51" x2="467.93" y2="265.51" stroke="#111" stroke-width="1.1"/>
<line x1="464.13" y1="255.29" x2="467.93" y2="255.29" stroke="#111" stroke-width="1.1"/>
<line x1="476.70" y1="252.74" x2="476.70" y2="228.16" stroke="#111" stroke-width="1.1"/>
<line x1="474.80" y1="252.74" x2="478.60" y2="252.74" stroke="#111" stroke-width="1.1"/>
<line x1="474.80" y1="228.16" x2="478.60" y2="228.16" stroke="#111" stroke-width="1.1"/>
<line x1="487.37" y1="244.44" x2="487.37" y2="227.20" stroke="#111" stroke-width="1.1"/>
<line x1="485.47" y1="244.44" x2="489.27" y2="244.44" stroke="#111" stroke-width="1.1"/>
<line x1="485.47" y1="227.20" x2="489.27" y2="227.20" stroke="#111" stroke-width="1.1"/>
<line x1="498.03" y1="259.76" x2="498.03" y2="241.25" stroke="#111" stroke-width="1.1"/>
<line x1="496.13" y1="259.76" x2="499.93" y2="259.76" stroke="#111" stroke-width="1.1"/>
<line x1="496.13" y1="241.25" x2="499.93" y2="241.25" stroke="#111" stroke-width="1.1"/>
<line x1="508.70" y1="259.12" x2="508.70" y2="237.10" stroke="#111" stroke-width="1.1"/>
<line x1="506.80" y1="259.12" x2="510.60" y2="259.12" stroke="#111" stroke-width="1.1"/>
<line x1="506.80" y1="237.10" x2="510.60" y2="237.10" stroke="#111" stroke-width="1.1"/>
<line x1="519.37" y1="274.77" x2="519.37" y2="251.78" stroke="#111" stroke-width="1.1"/>
<line x1="517.47" y1="274.77" x2="521.27" y2="274.77" stroke="#111" stroke-width="1.1"/>
<line x1="517.47" y1="251.78" x2="521.27" y2="251.78" stroke="#111" stroke-width="1.1"/>
<line x1="530.03" y1="302.86" x2="530.03" y2="274.77" stroke="#111" stroke-width="1.1"/>
<line x1="528.13" y1="302.86" x2="531.93" y2="302.86" stroke="#111" stroke-width="1.1"/>
<line x1="528.13" y1="274.77" x2="531.93" y2="274.77" stroke="#111" stroke-width="1.1"/>
<line x1="540.70" y1="280.19" x2="540.70" y2="255.61" stroke="#111" stroke-width="1.1"/>
<line x1="538.80" y1="280.19" x2="542.60" y2="280.19" stroke="#111" stroke-width="1.1"/>
<line x1="538.80" y1="255.61" x2="542.60" y2="255.61" stroke="#111" stroke-width="1.1"/>
<rect x="428.70" y="192.40" width="128.00" height="127.70" fill="none" stroke="#1c1c1c" stroke-width="1.35"/>
<line x1="425.10" y1="320.10" x2="428.70" y2="320.10" stroke="#1c1c1c" stroke-width="1.1"/>
<text x="421.50" y="322.15" font-size="6.2" text-anchor="end" font-weight="normal" fill="#1a1a1a">-0.20</text>
<line x1="426.80" y1="313.72" x2="428.70" y2="313.72" stroke="#1c1c1c" stroke-width="0.8"/>
<line x1="426.80" y1="307.33" x2="428.70" y2="307.33" stroke="#1c1c1c" stroke-width="0.8"/>
<line x1="426.80" y1="300.95" x2="428.70" y2="300.95" stroke="#1c1c1c" stroke-width="0.8"/>
<line x1="426.80" y1="294.56" x2="428.70" y2="294.56" stroke="#1c1c1c" stroke-width="0.8"/>
<line x1="425.10" y1="288.18" x2="428.70" y2="288.18" stroke="#1c1c1c" stroke-width="1.1"/>
<text x="421.50" y="290.23" font-size="6.2" text-anchor="end" font-weight="normal" fill="#1a1a1a">-0.10</text>
<line x1="426.80" y1="281.79" x2="428.70" y2="281.79" stroke="#1c1c1c" stroke-width="0.8"/>
<line x1="426.80" y1="275.41" x2="428.70" y2="275.41" stroke="#1c1c1c" stroke-width="0.8"/>
<line x1="426.80" y1="269.02" x2="428.70" y2="269.02" stroke="#1c1c1c" stroke-width="0.8"/>
<line x1="426.80" y1="262.64" x2="428.70" y2="262.64" stroke="#1c1c1c" stroke-width="0.8"/>
<line x1="425.10" y1="256.25" x2="428.70" y2="256.25" stroke="#1c1c1c" stroke-width="1.1"/>
<text x="421.50" y="258.30" font-size="6.2" text-anchor="end" font-weight="normal" fill="#1a1a1a">0.00</text>
<line x1="426.80" y1="249.87" x2="428.70" y2="249.87" stroke="#1c1c1c" stroke-width="0.8"/>
<line x1="426.80" y1="243.48" x2="428.70" y2="243.48" stroke="#1c1c1c" stroke-width="0.8"/>
<line x1="426.80" y1="237.10" x2="428.70" y2="237.10" stroke="#1c1c1c" stroke-width="0.8"/>
<line x1="426.80" y1="230.71" x2="428.70" y2="230.71" stroke="#1c1c1c" stroke-width="0.8"/>
<line x1="425.10" y1="224.33" x2="428.70" y2="224.33" stroke="#1c1c1c" stroke-width="1.1"/>
<text x="421.50" y="226.38" font-size="6.2" text-anchor="end" font-weight="normal" fill="#1a1a1a">0.10</text>
<line x1="426.80" y1="217.94" x2="428.70" y2="217.94" stroke="#1c1c1c" stroke-width="0.8"/>
<line x1="426.80" y1="211.56" x2="428.70" y2="211.56" stroke="#1c1c1c" stroke-width="0.8"/>
<line x1="426.80" y1="205.17" x2="428.70" y2="205.17" stroke="#1c1c1c" stroke-width="0.8"/>
<line x1="426.80" y1="198.79" x2="428.70" y2="198.79" stroke="#1c1c1c" stroke-width="0.8"/>
<line x1="425.10" y1="192.40" x2="428.70" y2="192.40" stroke="#1c1c1c" stroke-width="1.1"/>
<text x="421.50" y="194.45" font-size="6.2" text-anchor="end" font-weight="normal" fill="#1a1a1a">0.20</text>
<line x1="444.70" y1="320.10" x2="444.70" y2="323.80" stroke="#1c1c1c" stroke-width="1.1"/>
<text x="452.60" y="326.80" font-size="6.0" text-anchor="end" fill="#000" transform="rotate(-45 452.60 326.80)">165E</text>
<line x1="455.37" y1="320.10" x2="455.37" y2="323.80" stroke="#1c1c1c" stroke-width="1.1"/>
<text x="463.27" y="326.80" font-size="6.0" text-anchor="end" fill="#000" transform="rotate(-45 463.27 326.80)">175E</text>
<line x1="466.03" y1="320.10" x2="466.03" y2="323.80" stroke="#1c1c1c" stroke-width="1.1"/>
<text x="473.93" y="326.80" font-size="6.0" text-anchor="end" fill="#000" transform="rotate(-45 473.93 326.80)">175W</text>
<line x1="476.70" y1="320.10" x2="476.70" y2="323.80" stroke="#1c1c1c" stroke-width="1.1"/>
<text x="484.60" y="326.80" font-size="6.0" text-anchor="end" fill="#000" transform="rotate(-45 484.60 326.80)">165W</text>
<line x1="487.37" y1="320.10" x2="487.37" y2="323.80" stroke="#1c1c1c" stroke-width="1.1"/>
<text x="495.27" y="326.80" font-size="6.0" text-anchor="end" fill="#000" transform="rotate(-45 495.27 326.80)">155W</text>
<line x1="498.03" y1="320.10" x2="498.03" y2="323.80" stroke="#1c1c1c" stroke-width="1.1"/>
<text x="505.93" y="326.80" font-size="6.0" text-anchor="end" fill="#000" transform="rotate(-45 505.93 326.80)">145W</text>
<line x1="508.70" y1="320.10" x2="508.70" y2="323.80" stroke="#1c1c1c" stroke-width="1.1"/>
<text x="516.60" y="326.80" font-size="6.0" text-anchor="end" fill="#000" transform="rotate(-45 516.60 326.80)">135W</text>
<line x1="519.37" y1="320.10" x2="519.37" y2="323.80" stroke="#1c1c1c" stroke-width="1.1"/>
<text x="527.27" y="326.80" font-size="6.0" text-anchor="end" fill="#000" transform="rotate(-45 527.27 326.80)">125W</text>
<line x1="530.03" y1="320.10" x2="530.03" y2="323.80" stroke="#1c1c1c" stroke-width="1.1"/>
<text x="537.93" y="326.80" font-size="6.0" text-anchor="end" fill="#000" transform="rotate(-45 537.93 326.80)">115W</text>
<line x1="540.70" y1="320.10" x2="540.70" y2="323.80" stroke="#1c1c1c" stroke-width="1.1"/>
<text x="548.60" y="326.80" font-size="6.0" text-anchor="end" fill="#000" transform="rotate(-45 548.60 326.80)">105W</text>
<text x="420.40" y="178.20" font-size="11.5" text-anchor="start" font-weight="bold" fill="#000">e</text>
<text x="428.40" y="188.30" font-size="7.38" text-anchor="start" font-weight="normal" fill="#111">21<tspan font-size="4.7" dy="-2.7">st</tspan><tspan dy="2.7"> century - 20</tspan><tspan font-size="4.7" dy="-2.7">th</tspan><tspan dy="2.7"> century</tspan></text>
<text x="557.00" y="188.30" font-size="7.42" text-anchor="end" font-weight="normal" fill="#111">CMIP6 MME</text>
<g transform="translate(14.80,356.00)">
<g clip-path="url(#mclip)">
<rect x="0" y="0" width="210.10" height="52.80" fill="#fff"/>
<path d="M171.5,47.0 170.0,47.3 165.0,46.5 157.5,45.9 151.5,45.1 140.5,44.3 132.5,43.2 123.5,42.3 110.5,40.3 86.2,35.0 82.0,34.4 80.0,33.8 69.5,32.2 66.5,31.4 62.5,30.8 60.0,30.0 56.5,29.3 55.0,28.7 53.5,27.8 52.0,27.3 47.5,26.5 47.5,26.0 52.0,25.2 53.5,24.7 55.0,23.8 56.5,23.2 60.0,22.5 63.2,21.5 66.5,21.0 69.0,20.2 81.5,18.3 86.0,18.0 93.0,17.1 107.0,16.2 130.5,15.3 170.0,14.5 176.0,12.7 181.0,12.7 185.0,11.8 186.5,10.7 187.5,9.5 188.3,8.0 189.0,6.1 190.0,7.6 191.5,9.2 193.0,10.2 195.0,11.2 199.5,12.6 210.0,14.3 210.0,39.5 200.5,40.6 197.5,41.1 191.5,42.5 187.0,43.8 185.0,44.6 178.5,45.7 176.0,46.5 171.5,47.0Z" fill="#fff4c9" fill-rule="evenodd"/>
<path d="M153.5,38.0 140.5,38.4 123.5,37.3 110.5,36.3 103.3,35.0 97.5,34.2 85.5,33.3 76.0,31.6 63.5,28.9 56.5,27.1 55.0,26.5 55.0,26.0 58.0,25.0 69.0,22.2 80.0,20.2 82.5,19.4 85.0,18.9 102.0,18.5 123.5,17.6 140.5,17.1 170.0,16.7 176.0,16.2 185.0,16.4 189.0,17.0 197.0,20.4 203.5,21.1 210.0,21.0 210.0,34.0 203.5,33.2 197.0,33.5 189.0,36.7 185.0,37.4 170.0,37.4 153.5,38.0Z" fill="#feeaa6" fill-rule="evenodd"/>
<path d="M151.5,34.5 140.0,34.8 117.5,33.7 105.5,33.0 85.5,32.3 79.0,31.0 66.0,28.1 59.9,26.5 59.9,26.0 72.5,22.9 80.0,21.3 85.5,19.7 110.5,19.6 140.5,19.1 176.0,19.7 181.0,20.1 183.5,20.9 186.0,22.1 189.0,24.3 192.4,26.0 192.8,26.5 192.6,27.0 189.0,28.9 186.0,31.0 183.5,32.3 181.0,33.1 173.0,33.6 151.5,34.5Z" fill="#fde38a" fill-rule="evenodd"/>
<path d="M143.5,32.5 140.5,32.7 106.5,31.6 85.5,31.2 65.2,26.5 65.2,26.0 80.0,22.5 85.5,20.6 140.5,20.6 170.5,21.7 176.0,22.1 179.0,22.8 181.0,23.6 184.1,26.0 184.1,26.5 180.9,29.0 179.0,29.8 176.0,30.4 158.0,31.8 143.5,32.5Z" fill="#fdd36c" fill-rule="evenodd"/>
<path d="M151.0,30.0 140.5,30.4 85.5,30.2 72.6,27.0 71.0,26.5 71.0,26.0 80.0,23.7 85.5,21.7 110.5,21.9 157.5,22.8 170.0,23.5 172.5,23.8 176.0,24.5 178.2,26.0 178.2,26.5 176.0,28.2 171.9,29.0 170.0,29.2 151.0,30.0Z" fill="#fdbf4a" fill-rule="evenodd"/>
<path d="M123.5,29.0 110.0,29.2 85.5,29.2 77.5,26.5 77.5,26.0 80.0,25.3 85.5,23.2 110.0,23.3 123.5,23.8 157.5,24.7 170.0,25.5 171.4,26.0 171.6,26.5 170.0,27.2 157.5,28.1 123.5,29.0Z" fill="#fca936" fill-rule="evenodd"/>
<path d="M110.5,27.5 85.5,27.6 83.0,26.5 83.0,26.0 85.5,24.7 110.0,24.9 120.8,26.0 121.0,26.5 110.5,27.5Z" fill="#fb9430" fill-rule="evenodd"/>
<use href="#land"/>
</g>
<rect x="0" y="0" width="210.10" height="52.80" fill="none" stroke="#1c1c1c" stroke-width="1.2"/>
<line x1="0.00" y1="52.80" x2="0.00" y2="54.80" stroke="#1c1c1c" stroke-width="0.7"/>
<text x="0.00" y="60.60" font-size="4.3" text-anchor="middle" fill="#111">120E</text>
<line x1="13.13" y1="52.80" x2="13.13" y2="53.90" stroke="#1c1c1c" stroke-width="0.7"/>
<line x1="26.26" y1="52.80" x2="26.26" y2="53.90" stroke="#1c1c1c" stroke-width="0.7"/>
<line x1="39.39" y1="52.80" x2="39.39" y2="54.80" stroke="#1c1c1c" stroke-width="0.7"/>
<text x="39.39" y="60.60" font-size="4.3" text-anchor="middle" fill="#111">150E</text>
<line x1="52.52" y1="52.80" x2="52.52" y2="53.90" stroke="#1c1c1c" stroke-width="0.7"/>
<line x1="65.66" y1="52.80" x2="65.66" y2="53.90" stroke="#1c1c1c" stroke-width="0.7"/>
<line x1="78.79" y1="52.80" x2="78.79" y2="54.80" stroke="#1c1c1c" stroke-width="0.7"/>
<text x="78.79" y="60.60" font-size="4.3" text-anchor="middle" fill="#111">180</text>
<line x1="91.92" y1="52.80" x2="91.92" y2="53.90" stroke="#1c1c1c" stroke-width="0.7"/>
<line x1="105.05" y1="52.80" x2="105.05" y2="53.90" stroke="#1c1c1c" stroke-width="0.7"/>
<line x1="118.18" y1="52.80" x2="118.18" y2="54.80" stroke="#1c1c1c" stroke-width="0.7"/>
<text x="118.18" y="60.60" font-size="4.3" text-anchor="middle" fill="#111">150W</text>
<line x1="131.31" y1="52.80" x2="131.31" y2="53.90" stroke="#1c1c1c" stroke-width="0.7"/>
<line x1="144.44" y1="52.80" x2="144.44" y2="53.90" stroke="#1c1c1c" stroke-width="0.7"/>
<line x1="157.57" y1="52.80" x2="157.57" y2="54.80" stroke="#1c1c1c" stroke-width="0.7"/>
<text x="157.57" y="60.60" font-size="4.3" text-anchor="middle" fill="#111">120W</text>
<line x1="170.70" y1="52.80" x2="170.70" y2="53.90" stroke="#1c1c1c" stroke-width="0.7"/>
<line x1="183.83" y1="52.80" x2="183.83" y2="53.90" stroke="#1c1c1c" stroke-width="0.7"/>
<line x1="196.97" y1="52.80" x2="196.97" y2="54.80" stroke="#1c1c1c" stroke-width="0.7"/>
<text x="196.97" y="60.60" font-size="4.3" text-anchor="middle" fill="#111">90W</text>
<line x1="210.10" y1="52.80" x2="210.10" y2="53.90" stroke="#1c1c1c" stroke-width="0.7"/>
<line x1="-2.00" y1="52.80" x2="0" y2="52.80" stroke="#1c1c1c" stroke-width="0.7"/>
<text x="-4.40" y="54.40" font-size="4.4" text-anchor="end" fill="#111">20S</text>
<line x1="-1.10" y1="46.20" x2="0" y2="46.20" stroke="#1c1c1c" stroke-width="0.7"/>
<line x1="-2.00" y1="39.60" x2="0" y2="39.60" stroke="#1c1c1c" stroke-width="0.7"/>
<text x="-4.40" y="41.20" font-size="4.4" text-anchor="end" fill="#111">10S</text>
<line x1="-1.10" y1="33.00" x2="0" y2="33.00" stroke="#1c1c1c" stroke-width="0.7"/>
<line x1="-2.00" y1="26.40" x2="0" y2="26.40" stroke="#1c1c1c" stroke-width="0.7"/>
<text x="-4.40" y="28.00" font-size="4.4" text-anchor="end" fill="#111">0</text>
<line x1="-1.10" y1="19.80" x2="0" y2="19.80" stroke="#1c1c1c" stroke-width="0.7"/>
<line x1="-2.00" y1="13.20" x2="0" y2="13.20" stroke="#1c1c1c" stroke-width="0.7"/>
<text x="-4.40" y="14.80" font-size="4.4" text-anchor="end" fill="#111">10N</text>
<line x1="-1.10" y1="6.60" x2="0" y2="6.60" stroke="#1c1c1c" stroke-width="0.7"/>
<line x1="-2.00" y1="0.00" x2="0" y2="0.00" stroke="#1c1c1c" stroke-width="0.7"/>
<text x="-4.40" y="1.60" font-size="4.4" text-anchor="end" fill="#111">20N</text>
</g>
<text x="7.10" y="346.90" font-size="12" text-anchor="start" font-weight="bold" fill="#000">f</text>
<text x="14.60" y="353.00" font-size="5.4" text-anchor="start" font-weight="normal" fill="#111">CP El Nino</text>
<text x="225.10" y="352.20" font-size="5.4" text-anchor="end" font-weight="normal" fill="#111">20<tspan font-size="3.8" dy="-2">th</tspan><tspan dy="2"> century</tspan></text>
<g transform="translate(241.60,356.00)">
<g clip-path="url(#mclip)">
<rect x="0" y="0" width="210.10" height="52.80" fill="#fff"/>
<path d="M159.5,47.0 157.5,47.2 150.0,45.7 142.5,44.4 134.0,43.3 123.5,42.3 104.2,37.5 95.5,36.3 90.5,35.0 86.0,34.6 82.5,33.8 77.0,33.2 73.5,32.3 69.0,31.6 66.5,30.8 62.5,30.2 60.5,29.5 56.5,28.7 53.0,27.3 48.3,26.5 48.3,26.0 53.0,25.2 56.5,23.8 60.6,23.0 63.0,22.2 67.0,21.5 69.5,20.8 73.5,20.2 76.5,19.4 82.0,18.7 90.0,18.5 92.0,17.8 95.0,17.4 103.5,17.0 109.0,16.3 117.5,15.8 134.0,15.3 158.3,15.0 168.0,13.7 176.5,12.1 182.5,12.1 184.0,11.1 185.2,10.0 186.1,8.5 187.0,6.2 188.5,7.4 190.0,8.1 194.5,9.3 202.0,10.2 210.0,10.2 210.0,39.4 198.0,41.2 192.0,42.4 182.5,45.2 176.5,45.9 159.5,47.0Z" fill="#fff4c9" fill-rule="evenodd"/>
<path d="M158.0,40.0 123.5,37.4 113.0,36.1 103.0,35.2 97.5,34.4 89.5,33.8 63.0,28.4 55.9,26.5 55.9,26.0 62.5,24.2 69.5,22.7 84.5,19.8 103.0,17.9 123.5,17.3 160.5,17.1 170.0,17.5 176.5,18.0 185.5,18.1 190.5,18.8 194.5,19.6 202.0,20.2 210.0,20.3 210.0,36.1 202.0,36.1 194.0,35.5 185.5,37.1 180.5,37.7 168.0,39.2 158.0,40.0Z" fill="#feeaa6" fill-rule="evenodd"/>
<path d="M161.0,35.5 157.5,35.8 127.0,34.7 103.5,33.6 90.0,32.8 82.5,31.1 75.0,29.7 65.5,27.6 61.3,26.5 61.3,26.0 70.0,23.9 82.5,21.4 86.5,20.4 103.5,18.6 157.5,19.0 181.0,20.3 182.5,20.4 183.5,21.0 185.4,22.5 187.0,24.2 197.0,25.1 210.0,25.3 210.0,33.1 202.0,33.0 198.5,30.7 194.0,28.8 187.5,28.9 187.0,28.9 184.5,31.9 183.0,33.1 182.2,33.5 171.0,34.7 161.0,35.5Z" fill="#fde38a" fill-rule="evenodd"/>
<path d="M160.0,33.0 157.5,33.2 123.5,32.8 103.0,32.4 90.0,31.9 82.5,30.0 68.5,27.0 66.6,26.5 66.6,26.0 77.4,23.5 82.5,22.5 85.6,21.5 88.5,20.8 103.5,19.4 123.5,20.1 157.5,20.6 171.8,21.5 176.5,21.9 179.0,22.6 182.0,24.0 184.4,26.0 184.5,26.5 181.0,29.3 179.0,30.5 176.5,31.5 160.0,33.0Z" fill="#fdd36c" fill-rule="evenodd"/>
<path d="M156.5,31.0 131.0,31.4 103.5,31.5 90.0,31.0 82.5,29.0 71.3,26.5 71.3,26.0 82.5,23.5 87.0,22.0 90.0,21.3 103.5,20.1 123.5,21.1 158.4,22.0 167.0,22.9 175.0,24.0 176.9,24.5 179.1,26.0 179.1,26.5 176.5,28.2 175.4,28.5 166.3,30.0 156.5,31.0Z" fill="#fdbf4a" fill-rule="evenodd"/>
<path d="M119.5,30.5 103.0,30.7 90.0,30.1 82.5,27.9 76.0,26.5 76.0,26.0 82.5,24.6 86.0,23.2 90.0,22.0 103.0,20.9 123.5,22.1 145.0,22.8 157.5,23.6 166.4,24.5 168.6,25.0 171.6,26.0 171.6,26.5 168.0,27.6 164.5,28.2 158.0,28.9 142.0,29.9 119.5,30.5Z" fill="#fca936" fill-rule="evenodd"/>
<path d="M124.0,29.5 103.0,29.8 90.0,29.2 87.4,28.5 83.3,27.0 80.8,26.5 80.8,26.0 83.3,25.5 87.8,23.5 90.0,22.8 103.0,21.7 119.0,22.7 157.5,24.8 163.0,26.0 162.9,26.5 157.5,27.6 124.0,29.5Z" fill="#fb9430" fill-rule="evenodd"/>
<path d="M122.0,28.5 103.0,29.0 90.0,28.3 85.0,26.5 85.0,26.0 86.5,25.5 90.0,23.7 103.0,22.9 136.0,24.8 150.1,26.0 150.0,26.5 147.0,26.8 122.0,28.5Z" fill="#f7762a" fill-rule="evenodd"/>
<path d="M108.0,27.5 103.0,27.6 90.0,27.0 88.9,26.5 88.8,26.0 90.0,25.4 103.0,24.6 123.5,25.5 130.2,26.0 130.1,26.5 123.5,27.0 108.0,27.5Z" fill="#f15d29" fill-rule="evenodd"/>
<use href="#land"/>
</g>
<rect x="0" y="0" width="210.10" height="52.80" fill="none" stroke="#1c1c1c" stroke-width="1.2"/>
<line x1="0.00" y1="52.80" x2="0.00" y2="54.80" stroke="#1c1c1c" stroke-width="0.7"/>
<text x="0.00" y="60.60" font-size="4.3" text-anchor="middle" fill="#111">120E</text>
<line x1="13.13" y1="52.80" x2="13.13" y2="53.90" stroke="#1c1c1c" stroke-width="0.7"/>
<line x1="26.26" y1="52.80" x2="26.26" y2="53.90" stroke="#1c1c1c" stroke-width="0.7"/>
<line x1="39.39" y1="52.80" x2="39.39" y2="54.80" stroke="#1c1c1c" stroke-width="0.7"/>
<text x="39.39" y="60.60" font-size="4.3" text-anchor="middle" fill="#111">150E</text>
<line x1="52.52" y1="52.80" x2="52.52" y2="53.90" stroke="#1c1c1c" stroke-width="0.7"/>
<line x1="65.66" y1="52.80" x2="65.66" y2="53.90" stroke="#1c1c1c" stroke-width="0.7"/>
<line x1="78.79" y1="52.80" x2="78.79" y2="54.80" stroke="#1c1c1c" stroke-width="0.7"/>
<text x="78.79" y="60.60" font-size="4.3" text-anchor="middle" fill="#111">180</text>
<line x1="91.92" y1="52.80" x2="91.92" y2="53.90" stroke="#1c1c1c" stroke-width="0.7"/>
<line x1="105.05" y1="52.80" x2="105.05" y2="53.90" stroke="#1c1c1c" stroke-width="0.7"/>
<line x1="118.18" y1="52.80" x2="118.18" y2="54.80" stroke="#1c1c1c" stroke-width="0.7"/>
<text x="118.18" y="60.60" font-size="4.3" text-anchor="middle" fill="#111">150W</text>
<line x1="131.31" y1="52.80" x2="131.31" y2="53.90" stroke="#1c1c1c" stroke-width="0.7"/>
<line x1="144.44" y1="52.80" x2="144.44" y2="53.90" stroke="#1c1c1c" stroke-width="0.7"/>
<line x1="157.57" y1="52.80" x2="157.57" y2="54.80" stroke="#1c1c1c" stroke-width="0.7"/>
<text x="157.57" y="60.60" font-size="4.3" text-anchor="middle" fill="#111">120W</text>
<line x1="170.70" y1="52.80" x2="170.70" y2="53.90" stroke="#1c1c1c" stroke-width="0.7"/>
<line x1="183.83" y1="52.80" x2="183.83" y2="53.90" stroke="#1c1c1c" stroke-width="0.7"/>
<line x1="196.97" y1="52.80" x2="196.97" y2="54.80" stroke="#1c1c1c" stroke-width="0.7"/>
<text x="196.97" y="60.60" font-size="4.3" text-anchor="middle" fill="#111">90W</text>
<line x1="210.10" y1="52.80" x2="210.10" y2="53.90" stroke="#1c1c1c" stroke-width="0.7"/>
<line x1="-2.00" y1="52.80" x2="0" y2="52.80" stroke="#1c1c1c" stroke-width="0.7"/>
<text x="-4.40" y="54.40" font-size="4.4" text-anchor="end" fill="#111">20S</text>
<line x1="-1.10" y1="46.20" x2="0" y2="46.20" stroke="#1c1c1c" stroke-width="0.7"/>
<line x1="-2.00" y1="39.60" x2="0" y2="39.60" stroke="#1c1c1c" stroke-width="0.7"/>
<text x="-4.40" y="41.20" font-size="4.4" text-anchor="end" fill="#111">10S</text>
<line x1="-1.10" y1="33.00" x2="0" y2="33.00" stroke="#1c1c1c" stroke-width="0.7"/>
<line x1="-2.00" y1="26.40" x2="0" y2="26.40" stroke="#1c1c1c" stroke-width="0.7"/>
<text x="-4.40" y="28.00" font-size="4.4" text-anchor="end" fill="#111">0</text>
<line x1="-1.10" y1="19.80" x2="0" y2="19.80" stroke="#1c1c1c" stroke-width="0.7"/>
<line x1="-2.00" y1="13.20" x2="0" y2="13.20" stroke="#1c1c1c" stroke-width="0.7"/>
<text x="-4.40" y="14.80" font-size="4.4" text-anchor="end" fill="#111">10N</text>
<line x1="-1.10" y1="6.60" x2="0" y2="6.60" stroke="#1c1c1c" stroke-width="0.7"/>
<line x1="-2.00" y1="0.00" x2="0" y2="0.00" stroke="#1c1c1c" stroke-width="0.7"/>
<text x="-4.40" y="1.60" font-size="4.4" text-anchor="end" fill="#111">20N</text>
</g>
<text x="232.40" y="346.90" font-size="12" text-anchor="start" font-weight="bold" fill="#000">g</text>
<text x="241.40" y="353.00" font-size="5.4" text-anchor="start" font-weight="normal" fill="#111">CP El Nino</text>
<text x="451.90" y="352.20" font-size="5.4" text-anchor="end" font-weight="normal" fill="#111">21<tspan font-size="3.8" dy="-2">st</tspan><tspan dy="2"> century</tspan></text>
<g transform="translate(469.20,356.00)">
<g clip-path="url(#mclip)">
<rect x="0" y="0" width="210.10" height="52.80" fill="#fff"/>
<path d="M33.0,10.0 28.0,9.1 21.0,8.5 20.3,7.0 19.5,5.9 18.5,4.9 17.2,4.0 16.2,0.0 51.7,0.0 51.1,4.5 48.5,5.3 46.5,6.2 45.0,7.2 43.3,9.0 36.0,9.6 33.0,10.0Z" fill="#ebf5fc" fill-rule="evenodd"/>
<path d="M128.5,30.0 114.0,30.4 104.5,30.2 97.0,29.8 88.0,28.4 86.5,27.8 85.5,26.5 85.5,26.0 86.5,24.7 87.0,24.5 90.5,23.8 98.0,23.1 114.0,22.6 132.5,23.1 149.0,23.9 154.5,24.7 156.0,25.3 156.6,26.0 156.6,26.5 155.5,27.2 150.5,28.5 138.5,29.0 135.0,29.6 128.5,30.0Z" fill="#fff6d4" fill-rule="evenodd"/>
<path d="M114.5,29.5 106.5,28.5 93.0,27.7 89.9,26.5 89.9,26.0 93.0,25.0 104.5,24.5 114.0,23.8 125.0,24.2 139.5,24.5 144.0,25.2 155.0,26.0 155.0,26.5 154.5,26.6 146.0,27.0 139.5,28.1 121.0,28.7 117.5,29.0 114.5,29.5Z" fill="#feeaa0" fill-rule="evenodd"/>
<use href="#land"/>
</g>
<rect x="0" y="0" width="210.10" height="52.80" fill="none" stroke="#1c1c1c" stroke-width="1.2"/>
<line x1="0.00" y1="52.80" x2="0.00" y2="54.80" stroke="#1c1c1c" stroke-width="0.7"/>
<text x="0.00" y="60.60" font-size="4.3" text-anchor="middle" fill="#111">120E</text>
<line x1="13.13" y1="52.80" x2="13.13" y2="53.90" stroke="#1c1c1c" stroke-width="0.7"/>
<line x1="26.26" y1="52.80" x2="26.26" y2="53.90" stroke="#1c1c1c" stroke-width="0.7"/>
<line x1="39.39" y1="52.80" x2="39.39" y2="54.80" stroke="#1c1c1c" stroke-width="0.7"/>
<text x="39.39" y="60.60" font-size="4.3" text-anchor="middle" fill="#111">150E</text>
<line x1="52.52" y1="52.80" x2="52.52" y2="53.90" stroke="#1c1c1c" stroke-width="0.7"/>
<line x1="65.66" y1="52.80" x2="65.66" y2="53.90" stroke="#1c1c1c" stroke-width="0.7"/>
<line x1="78.79" y1="52.80" x2="78.79" y2="54.80" stroke="#1c1c1c" stroke-width="0.7"/>
<text x="78.79" y="60.60" font-size="4.3" text-anchor="middle" fill="#111">180</text>
<line x1="91.92" y1="52.80" x2="91.92" y2="53.90" stroke="#1c1c1c" stroke-width="0.7"/>
<line x1="105.05" y1="52.80" x2="105.05" y2="53.90" stroke="#1c1c1c" stroke-width="0.7"/>
<line x1="118.18" y1="52.80" x2="118.18" y2="54.80" stroke="#1c1c1c" stroke-width="0.7"/>
<text x="118.18" y="60.60" font-size="4.3" text-anchor="middle" fill="#111">150W</text>
<line x1="131.31" y1="52.80" x2="131.31" y2="53.90" stroke="#1c1c1c" stroke-width="0.7"/>
<line x1="144.44" y1="52.80" x2="144.44" y2="53.90" stroke="#1c1c1c" stroke-width="0.7"/>
<line x1="157.57" y1="52.80" x2="157.57" y2="54.80" stroke="#1c1c1c" stroke-width="0.7"/>
<text x="157.57" y="60.60" font-size="4.3" text-anchor="middle" fill="#111">120W</text>
<line x1="170.70" y1="52.80" x2="170.70" y2="53.90" stroke="#1c1c1c" stroke-width="0.7"/>
<line x1="183.83" y1="52.80" x2="183.83" y2="53.90" stroke="#1c1c1c" stroke-width="0.7"/>
<line x1="196.97" y1="52.80" x2="196.97" y2="54.80" stroke="#1c1c1c" stroke-width="0.7"/>
<text x="196.97" y="60.60" font-size="4.3" text-anchor="middle" fill="#111">90W</text>
<line x1="210.10" y1="52.80" x2="210.10" y2="53.90" stroke="#1c1c1c" stroke-width="0.7"/>
<line x1="-2.00" y1="52.80" x2="0" y2="52.80" stroke="#1c1c1c" stroke-width="0.7"/>
<text x="-4.40" y="54.40" font-size="4.4" text-anchor="end" fill="#111">20S</text>
<line x1="-1.10" y1="46.20" x2="0" y2="46.20" stroke="#1c1c1c" stroke-width="0.7"/>
<line x1="-2.00" y1="39.60" x2="0" y2="39.60" stroke="#1c1c1c" stroke-width="0.7"/>
<text x="-4.40" y="41.20" font-size="4.4" text-anchor="end" fill="#111">10S</text>
<line x1="-1.10" y1="33.00" x2="0" y2="33.00" stroke="#1c1c1c" stroke-width="0.7"/>
<line x1="-2.00" y1="26.40" x2="0" y2="26.40" stroke="#1c1c1c" stroke-width="0.7"/>
<text x="-4.40" y="28.00" font-size="4.4" text-anchor="end" fill="#111">0</text>
<line x1="-1.10" y1="19.80" x2="0" y2="19.80" stroke="#1c1c1c" stroke-width="0.7"/>
<line x1="-2.00" y1="13.20" x2="0" y2="13.20" stroke="#1c1c1c" stroke-width="0.7"/>
<text x="-4.40" y="14.80" font-size="4.4" text-anchor="end" fill="#111">10N</text>
<line x1="-1.10" y1="6.60" x2="0" y2="6.60" stroke="#1c1c1c" stroke-width="0.7"/>
<line x1="-2.00" y1="0.00" x2="0" y2="0.00" stroke="#1c1c1c" stroke-width="0.7"/>
<text x="-4.40" y="1.60" font-size="4.4" text-anchor="end" fill="#111">20N</text>
</g>
<text x="460.30" y="346.90" font-size="12" text-anchor="start" font-weight="bold" fill="#000">h</text>
<text x="469.00" y="353.00" font-size="5.4" text-anchor="start" font-weight="normal" fill="#111">CP El Nino</text>
<text x="679.50" y="352.20" font-size="5.4" text-anchor="end" font-weight="normal" fill="#111">21<tspan font-size="3.8" dy="-2">st</tspan><tspan dy="2">C - 20</tspan><tspan font-size="3.8" dy="-2">th</tspan><tspan dy="2">C</tspan></text>
<g transform="translate(14.80,439.70)">
<g clip-path="url(#mclip)">
<rect x="0" y="0" width="210.10" height="52.80" fill="#fff"/>
<path d="M180.0,52.5 169.2,52.5 166.5,51.5 163.0,50.6 153.5,49.1 148.5,47.4 142.0,46.0 136.5,44.4 126.0,42.4 117.5,39.6 100.2,35.0 88.0,34.4 79.5,33.7 68.0,32.2 63.5,31.2 61.0,30.1 54.5,28.8 52.0,28.2 51.0,27.8 50.0,26.9 49.1,26.5 49.1,26.0 50.0,25.6 50.5,25.0 51.5,24.5 54.5,23.6 57.0,23.1 59.5,22.2 63.0,21.4 66.5,21.1 69.0,20.4 72.5,20.0 75.0,19.4 78.5,18.9 83.0,18.6 99.5,18.6 109.0,17.8 126.0,17.2 141.8,16.0 159.5,14.0 170.5,12.5 178.5,11.8 181.5,10.9 183.7,10.0 185.5,8.8 187.0,7.4 187.5,7.5 189.0,8.4 191.0,9.1 199.5,11.2 203.5,11.8 210.0,11.8 210.0,44.6 203.5,44.6 199.7,45.5 191.5,48.2 189.5,49.3 187.0,51.1 183.0,51.8 180.0,52.5Z" fill="#fff4c9" fill-rule="evenodd"/>
<path d="M183.0,43.0 178.5,43.4 170.5,43.4 153.5,42.0 147.5,40.8 142.0,39.5 126.0,37.3 112.4,34.5 99.5,33.1 88.5,32.4 72.5,31.0 66.5,30.0 64.5,29.1 61.5,28.3 56.7,26.5 56.7,26.0 59.5,24.9 61.2,24.0 64.5,23.2 66.4,22.5 72.6,21.5 83.0,20.2 99.5,19.9 126.0,18.6 149.0,18.4 170.5,17.6 178.5,17.6 187.0,17.0 194.5,17.0 203.5,17.7 210.0,17.7 210.0,39.4 203.5,39.4 198.0,40.7 187.0,42.7 183.0,43.0Z" fill="#feeaa6" fill-rule="evenodd"/>
<path d="M199.0,37.0 194.0,37.4 171.0,37.4 153.5,36.8 142.2,35.5 126.0,34.2 116.0,33.0 97.5,31.6 91.0,30.9 82.5,29.5 72.0,28.5 66.5,26.9 65.7,26.5 65.7,26.0 72.0,24.0 85.5,21.9 94.5,21.2 126.0,19.8 153.5,19.9 170.5,19.6 187.0,19.7 203.5,21.0 210.0,21.0 210.0,36.8 203.5,36.8 199.0,37.0Z" fill="#fde38a" fill-rule="evenodd"/>
<path d="M210.0,34.8 201.5,34.8 194.0,34.1 170.5,34.2 153.5,33.9 99.5,30.5 92.4,29.5 82.6,27.5 78.6,26.5 78.6,26.0 88.4,23.5 94.8,22.5 100.6,22.0 126.0,20.9 170.5,21.0 182.0,21.4 189.5,22.3 192.0,22.8 194.5,23.7 203.0,24.2 210.0,24.3 210.0,34.8Z" fill="#fdd36c" fill-rule="evenodd"/>
<path d="M181.0,32.0 170.5,32.2 151.5,31.9 133.0,31.1 105.1,29.5 99.2,29.0 91.3,26.5 91.3,26.0 99.5,23.4 119.0,22.2 126.0,21.9 172.0,22.1 179.0,22.4 183.0,22.8 186.6,23.5 188.5,24.3 191.1,26.0 192.4,27.0 193.0,28.0 194.0,29.0 187.1,31.5 181.0,32.0ZM210.0,33.4 203.5,33.4 196.4,29.5 194.9,29.0 196.3,28.5 203.1,27.0 210.0,27.0 210.0,33.4Z" fill="#fdbf4a" fill-rule="evenodd"/>
<path d="M179.0,30.5 170.5,30.9 153.5,30.6 141.5,30.3 125.7,29.5 118.0,28.8 111.6,28.0 104.6,26.5 104.6,26.0 108.8,25.0 112.5,24.4 125.7,23.0 154.0,22.6 170.5,22.8 178.5,23.4 181.6,24.0 184.0,24.8 185.5,25.6 187.2,27.0 186.0,28.3 184.5,29.2 182.0,30.0 179.0,30.5Z" fill="#fca936" fill-rule="evenodd"/>
<path d="M175.0,29.5 170.5,29.8 154.0,29.8 145.0,29.4 125.5,27.6 120.7,26.5 120.7,26.0 126.0,24.9 154.0,23.3 170.5,23.7 173.3,24.0 178.5,24.7 179.5,25.0 182.3,26.0 183.6,27.0 182.3,28.0 180.0,28.9 178.5,29.3 175.0,29.5Z" fill="#fb9430" fill-rule="evenodd"/>
<path d="M172.0,28.5 153.5,28.8 150.5,28.3 144.9,27.0 145.0,26.5 153.5,24.5 170.5,25.1 178.5,26.0 180.1,27.0 178.5,27.9 172.0,28.5Z" fill="#f7762a" fill-rule="evenodd"/>
<use href="#land"/>
</g>
<rect x="0" y="0" width="210.10" height="52.80" fill="none" stroke="#1c1c1c" stroke-width="1.2"/>
<line x1="0.00" y1="52.80" x2="0.00" y2="54.80" stroke="#1c1c1c" stroke-width="0.7"/>
<text x="0.00" y="61.40" font-size="4.3" text-anchor="middle" fill="#111">120E</text>
<line x1="13.13" y1="52.80" x2="13.13" y2="53.90" stroke="#1c1c1c" stroke-width="0.7"/>
<line x1="26.26" y1="52.80" x2="26.26" y2="53.90" stroke="#1c1c1c" stroke-width="0.7"/>
<line x1="39.39" y1="52.80" x2="39.39" y2="54.80" stroke="#1c1c1c" stroke-width="0.7"/>
<text x="39.39" y="61.40" font-size="4.3" text-anchor="middle" fill="#111">150E</text>
<line x1="52.52" y1="52.80" x2="52.52" y2="53.90" stroke="#1c1c1c" stroke-width="0.7"/>
<line x1="65.66" y1="52.80" x2="65.66" y2="53.90" stroke="#1c1c1c" stroke-width="0.7"/>
<line x1="78.79" y1="52.80" x2="78.79" y2="54.80" stroke="#1c1c1c" stroke-width="0.7"/>
<text x="78.79" y="61.40" font-size="4.3" text-anchor="middle" fill="#111">180</text>
<line x1="91.92" y1="52.80" x2="91.92" y2="53.90" stroke="#1c1c1c" stroke-width="0.7"/>
<line x1="105.05" y1="52.80" x2="105.05" y2="53.90" stroke="#1c1c1c" stroke-width="0.7"/>
<line x1="118.18" y1="52.80" x2="118.18" y2="54.80" stroke="#1c1c1c" stroke-width="0.7"/>
<text x="118.18" y="61.40" font-size="4.3" text-anchor="middle" fill="#111">150W</text>
<line x1="131.31" y1="52.80" x2="131.31" y2="53.90" stroke="#1c1c1c" stroke-width="0.7"/>
<line x1="144.44" y1="52.80" x2="144.44" y2="53.90" stroke="#1c1c1c" stroke-width="0.7"/>
<line x1="157.57" y1="52.80" x2="157.57" y2="54.80" stroke="#1c1c1c" stroke-width="0.7"/>
<text x="157.57" y="61.40" font-size="4.3" text-anchor="middle" fill="#111">120W</text>
<line x1="170.70" y1="52.80" x2="170.70" y2="53.90" stroke="#1c1c1c" stroke-width="0.7"/>
<line x1="183.83" y1="52.80" x2="183.83" y2="53.90" stroke="#1c1c1c" stroke-width="0.7"/>
<line x1="196.97" y1="52.80" x2="196.97" y2="54.80" stroke="#1c1c1c" stroke-width="0.7"/>
<text x="196.97" y="61.40" font-size="4.3" text-anchor="middle" fill="#111">90W</text>
<line x1="210.10" y1="52.80" x2="210.10" y2="53.90" stroke="#1c1c1c" stroke-width="0.7"/>
<line x1="-2.00" y1="52.80" x2="0" y2="52.80" stroke="#1c1c1c" stroke-width="0.7"/>
<text x="-4.40" y="54.40" font-size="4.4" text-anchor="end" fill="#111">20S</text>
<line x1="-1.10" y1="46.20" x2="0" y2="46.20" stroke="#1c1c1c" stroke-width="0.7"/>
<line x1="-2.00" y1="39.60" x2="0" y2="39.60" stroke="#1c1c1c" stroke-width="0.7"/>
<text x="-4.40" y="41.20" font-size="4.4" text-anchor="end" fill="#111">10S</text>
<line x1="-1.10" y1="33.00" x2="0" y2="33.00" stroke="#1c1c1c" stroke-width="0.7"/>
<line x1="-2.00" y1="26.40" x2="0" y2="26.40" stroke="#1c1c1c" stroke-width="0.7"/>
<text x="-4.40" y="28.00" font-size="4.4" text-anchor="end" fill="#111">0</text>
<line x1="-1.10" y1="19.80" x2="0" y2="19.80" stroke="#1c1c1c" stroke-width="0.7"/>
<line x1="-2.00" y1="13.20" x2="0" y2="13.20" stroke="#1c1c1c" stroke-width="0.7"/>
<text x="-4.40" y="14.80" font-size="4.4" text-anchor="end" fill="#111">10N</text>
<line x1="-1.10" y1="6.60" x2="0" y2="6.60" stroke="#1c1c1c" stroke-width="0.7"/>
<line x1="-2.00" y1="0.00" x2="0" y2="0.00" stroke="#1c1c1c" stroke-width="0.7"/>
<text x="-4.40" y="1.60" font-size="4.4" text-anchor="end" fill="#111">20N</text>
</g>
<text x="4.10" y="430.60" font-size="12" text-anchor="start" font-weight="bold" fill="#000">i</text>
<text x="14.60" y="436.70" font-size="5.4" text-anchor="start" font-weight="normal" fill="#111">EP El Nino</text>
<text x="225.10" y="435.90" font-size="5.4" text-anchor="end" font-weight="normal" fill="#111">20<tspan font-size="3.8" dy="-2">th</tspan><tspan dy="2"> century</tspan></text>
<g transform="translate(241.60,439.70)">
<g clip-path="url(#mclip)">
<rect x="0" y="0" width="210.10" height="52.80" fill="#fff"/>
<path d="M182.5,52.5 164.6,52.5 162.0,50.8 157.5,49.2 154.5,47.5 151.0,46.0 147.0,44.6 137.0,42.1 129.5,40.5 98.1,35.0 86.0,34.2 81.3,33.5 74.5,32.8 71.6,32.0 67.0,31.4 64.3,30.5 60.0,30.0 54.5,28.8 51.0,27.7 50.4,27.0 49.3,26.5 49.3,26.0 50.4,25.5 51.0,24.8 54.5,23.7 60.0,22.5 64.3,22.0 67.5,21.0 71.6,20.5 74.0,19.8 77.5,19.3 85.5,18.7 105.0,17.8 129.0,17.2 147.0,16.3 152.0,15.6 158.0,15.0 165.5,13.7 172.5,13.1 182.5,11.6 184.5,10.4 187.0,8.2 187.5,8.0 191.0,9.0 194.5,9.6 210.0,9.9 210.0,45.3 204.5,45.3 194.0,47.3 191.0,48.2 189.0,49.0 185.0,50.8 183.8,51.5 182.7,52.5 182.5,52.5Z" fill="#fff4c9" fill-rule="evenodd"/>
<path d="M174.5,44.5 165.5,44.7 157.5,42.7 147.0,39.4 129.4,36.5 112.7,34.5 95.5,33.3 80.5,32.0 72.2,30.5 59.5,27.4 56.6,26.5 56.6,26.0 59.5,25.1 72.2,22.0 80.5,20.5 85.0,20.1 97.0,19.4 146.5,18.0 157.5,17.3 172.5,17.2 178.5,15.5 182.5,14.7 210.0,14.7 210.0,40.8 204.5,40.8 187.5,42.7 182.0,44.0 174.5,44.5Z" fill="#feeaa6" fill-rule="evenodd"/>
<path d="M197.5,38.5 194.0,38.7 187.0,38.1 165.5,38.1 157.5,37.4 147.0,35.5 120.3,33.5 97.0,32.3 92.0,31.9 84.0,31.0 78.0,29.9 64.3,26.5 64.3,26.0 74.0,23.5 81.0,22.0 88.5,21.0 97.0,20.4 157.5,19.0 172.5,19.0 182.5,17.8 210.0,17.9 210.0,38.1 204.5,38.1 197.5,38.5Z" fill="#fde38a" fill-rule="evenodd"/>
<path d="M210.0,36.1 194.5,36.1 182.0,34.8 165.0,34.8 157.5,34.4 147.0,33.5 128.0,32.5 97.0,31.2 89.0,30.3 82.5,29.1 71.9,26.5 71.9,26.0 85.0,22.9 90.5,22.0 97.5,21.3 129.5,20.5 157.5,20.1 172.5,20.1 182.5,19.8 187.5,19.8 194.5,20.7 210.0,21.0 210.0,36.1Z" fill="#fdd36c" fill-rule="evenodd"/>
<path d="M210.0,34.8 204.5,34.8 200.5,34.6 182.5,32.9 165.5,33.1 157.5,32.9 147.0,32.2 97.5,30.2 91.0,29.3 86.5,28.3 79.9,26.5 79.9,26.0 85.0,24.5 89.5,23.5 98.0,22.3 129.5,21.3 172.5,21.0 183.5,21.3 187.5,21.7 190.0,22.1 192.0,22.7 194.5,23.7 204.5,24.3 210.0,24.3 210.0,34.8Z" fill="#fdbf4a" fill-rule="evenodd"/>
<path d="M210.0,33.9 205.0,33.9 202.0,33.6 197.7,33.0 194.0,32.0 188.5,31.5 182.0,31.5 172.5,31.9 157.5,31.8 147.0,31.1 119.5,30.2 101.0,29.3 97.0,29.0 92.0,28.0 86.9,26.5 86.9,26.0 90.1,25.0 97.0,23.5 111.0,22.7 129.0,22.1 157.5,21.7 172.5,21.7 177.0,21.9 184.0,22.5 188.5,23.4 191.5,24.6 194.5,27.0 203.2,27.5 210.0,27.5 210.0,33.9Z" fill="#fca936" fill-rule="evenodd"/>
<path d="M181.0,30.5 172.5,31.0 157.5,30.9 147.0,30.2 123.0,29.5 110.0,28.7 97.5,27.6 93.8,26.5 93.8,26.0 97.5,24.9 109.0,23.9 120.0,23.2 129.5,22.8 157.5,22.3 172.5,22.3 181.0,23.1 185.5,24.0 187.2,24.5 189.5,25.6 191.3,27.0 191.5,27.5 190.8,29.0 190.1,29.5 189.5,29.7 187.0,30.2 181.0,30.5ZM210.0,33.0 204.9,33.0 203.7,31.5 204.3,30.0 205.0,29.7 210.0,29.7 210.0,33.0Z" fill="#fb9430" fill-rule="evenodd"/>
<path d="M175.0,30.0 172.5,30.2 157.5,30.1 147.0,29.4 129.0,28.8 111.0,27.5 103.5,26.5 103.5,26.0 111.5,25.0 129.0,23.7 147.0,23.4 157.5,23.0 172.5,23.0 179.0,23.7 184.0,24.7 186.9,26.0 188.4,27.0 188.5,27.5 187.0,28.3 184.5,29.0 181.5,29.5 175.0,30.0Z" fill="#f7762a" fill-rule="evenodd"/>
<path d="M177.0,29.0 172.5,29.4 157.5,29.4 147.0,28.6 133.0,28.0 125.3,27.5 115.8,26.5 115.8,26.0 130.0,24.7 147.0,24.1 157.5,23.6 172.5,23.6 177.5,24.3 182.0,25.2 184.5,26.1 185.2,26.5 185.6,27.0 185.1,27.5 182.5,28.3 177.0,29.0Z" fill="#f15d29" fill-rule="evenodd"/>
<path d="M175.0,28.5 172.5,28.8 157.5,28.8 147.0,27.8 129.0,26.6 128.2,26.5 128.2,26.0 157.5,24.3 172.5,24.3 179.4,25.5 182.5,26.4 182.8,26.5 182.9,27.0 179.1,28.0 175.0,28.5Z" fill="#e94527" fill-rule="evenodd"/>
<path d="M174.5,28.0 172.5,28.2 157.5,28.1 150.2,27.0 148.2,26.5 158.0,25.1 172.5,24.9 175.4,25.5 178.7,26.5 178.9,27.0 174.5,28.0Z" fill="#dc2b2a" fill-rule="evenodd"/>
<path d="M173.0,27.5 163.8,27.5 160.5,27.0 160.5,26.5 165.5,25.7 172.5,25.8 174.3,26.5 174.3,27.0 173.0,27.5Z" fill="#d2242e" fill-rule="evenodd"/>
<use href="#land"/>
</g>
<rect x="0" y="0" width="210.10" height="52.80" fill="none" stroke="#1c1c1c" stroke-width="1.2"/>
<line x1="0.00" y1="52.80" x2="0.00" y2="54.80" stroke="#1c1c1c" stroke-width="0.7"/>
<text x="0.00" y="61.40" font-size="4.3" text-anchor="middle" fill="#111">120E</text>
<line x1="13.13" y1="52.80" x2="13.13" y2="53.90" stroke="#1c1c1c" stroke-width="0.7"/>
<line x1="26.26" y1="52.80" x2="26.26" y2="53.90" stroke="#1c1c1c" stroke-width="0.7"/>
<line x1="39.39" y1="52.80" x2="39.39" y2="54.80" stroke="#1c1c1c" stroke-width="0.7"/>
<text x="39.39" y="61.40" font-size="4.3" text-anchor="middle" fill="#111">150E</text>
<line x1="52.52" y1="52.80" x2="52.52" y2="53.90" stroke="#1c1c1c" stroke-width="0.7"/>
<line x1="65.66" y1="52.80" x2="65.66" y2="53.90" stroke="#1c1c1c" stroke-width="0.7"/>
<line x1="78.79" y1="52.80" x2="78.79" y2="54.80" stroke="#1c1c1c" stroke-width="0.7"/>
<text x="78.79" y="61.40" font-size="4.3" text-anchor="middle" fill="#111">180</text>
<line x1="91.92" y1="52.80" x2="91.92" y2="53.90" stroke="#1c1c1c" stroke-width="0.7"/>
<line x1="105.05" y1="52.80" x2="105.05" y2="53.90" stroke="#1c1c1c" stroke-width="0.7"/>
<line x1="118.18" y1="52.80" x2="118.18" y2="54.80" stroke="#1c1c1c" stroke-width="0.7"/>
<text x="118.18" y="61.40" font-size="4.3" text-anchor="middle" fill="#111">150W</text>
<line x1="131.31" y1="52.80" x2="131.31" y2="53.90" stroke="#1c1c1c" stroke-width="0.7"/>
<line x1="144.44" y1="52.80" x2="144.44" y2="53.90" stroke="#1c1c1c" stroke-width="0.7"/>
<line x1="157.57" y1="52.80" x2="157.57" y2="54.80" stroke="#1c1c1c" stroke-width="0.7"/>
<text x="157.57" y="61.40" font-size="4.3" text-anchor="middle" fill="#111">120W</text>
<line x1="170.70" y1="52.80" x2="170.70" y2="53.90" stroke="#1c1c1c" stroke-width="0.7"/>
<line x1="183.83" y1="52.80" x2="183.83" y2="53.90" stroke="#1c1c1c" stroke-width="0.7"/>
<line x1="196.97" y1="52.80" x2="196.97" y2="54.80" stroke="#1c1c1c" stroke-width="0.7"/>
<text x="196.97" y="61.40" font-size="4.3" text-anchor="middle" fill="#111">90W</text>
<line x1="210.10" y1="52.80" x2="210.10" y2="53.90" stroke="#1c1c1c" stroke-width="0.7"/>
<line x1="-2.00" y1="52.80" x2="0" y2="52.80" stroke="#1c1c1c" stroke-width="0.7"/>
<text x="-4.40" y="54.40" font-size="4.4" text-anchor="end" fill="#111">20S</text>
<line x1="-1.10" y1="46.20" x2="0" y2="46.20" stroke="#1c1c1c" stroke-width="0.7"/>
<line x1="-2.00" y1="39.60" x2="0" y2="39.60" stroke="#1c1c1c" stroke-width="0.7"/>
<text x="-4.40" y="41.20" font-size="4.4" text-anchor="end" fill="#111">10S</text>
<line x1="-1.10" y1="33.00" x2="0" y2="33.00" stroke="#1c1c1c" stroke-width="0.7"/>
<line x1="-2.00" y1="26.40" x2="0" y2="26.40" stroke="#1c1c1c" stroke-width="0.7"/>
<text x="-4.40" y="28.00" font-size="4.4" text-anchor="end" fill="#111">0</text>
<line x1="-1.10" y1="19.80" x2="0" y2="19.80" stroke="#1c1c1c" stroke-width="0.7"/>
<line x1="-2.00" y1="13.20" x2="0" y2="13.20" stroke="#1c1c1c" stroke-width="0.7"/>
<text x="-4.40" y="14.80" font-size="4.4" text-anchor="end" fill="#111">10N</text>
<line x1="-1.10" y1="6.60" x2="0" y2="6.60" stroke="#1c1c1c" stroke-width="0.7"/>
<line x1="-2.00" y1="0.00" x2="0" y2="0.00" stroke="#1c1c1c" stroke-width="0.7"/>
<text x="-4.40" y="1.60" font-size="4.4" text-anchor="end" fill="#111">20N</text>
</g>
<text x="231.30" y="430.60" font-size="12" text-anchor="start" font-weight="bold" fill="#000">j</text>
<text x="241.40" y="436.70" font-size="5.4" text-anchor="start" font-weight="normal" fill="#111">EP El Nino</text>
<text x="451.90" y="435.90" font-size="5.4" text-anchor="end" font-weight="normal" fill="#111">21<tspan font-size="3.8" dy="-2">st</tspan><tspan dy="2"> century</tspan></text>
<g transform="translate(469.20,439.70)">
<g clip-path="url(#mclip)">
<rect x="0" y="0" width="210.10" height="52.80" fill="#fff"/>
<path d="M117.0,52.5 99.6,52.5 100.6,48.0 101.0,47.6 115.5,47.6 116.1,48.0 116.5,49.1 117.4,52.5 117.0,52.5Z" fill="#ebf5fc" fill-rule="evenodd"/>
<path d="M177.5,47.0 170.5,47.1 168.5,46.3 165.5,45.9 164.4,44.5 163.0,43.4 161.5,42.7 158.9,42.0 156.5,39.4 154.5,38.0 152.0,36.7 148.5,35.5 131.5,35.4 121.5,34.8 107.0,33.2 98.0,31.6 91.9,30.0 89.0,28.9 80.9,27.5 80.0,27.2 79.5,26.5 79.5,26.0 80.0,25.3 82.5,24.7 89.0,23.9 92.0,23.3 95.2,23.0 106.5,21.4 127.5,20.2 149.3,20.0 154.2,18.0 158.5,15.9 162.0,14.6 163.7,13.5 165.5,11.9 168.5,11.3 171.0,10.5 179.0,10.4 181.6,10.0 183.5,9.4 186.7,7.5 188.0,6.2 189.0,4.7 190.5,6.6 192.0,8.0 194.0,9.3 196.5,10.4 202.5,11.2 205.5,11.9 210.0,11.9 210.0,42.0 204.0,41.9 199.5,41.2 197.0,40.6 192.0,41.1 190.0,41.6 186.1,43.0 184.8,44.0 183.5,45.9 179.5,46.4 177.5,47.0Z" fill="#fff6d4" fill-rule="evenodd"/>
<path d="M192.0,15.0 189.0,15.2 188.3,14.5 189.0,13.7 196.5,14.5 192.0,15.0ZM210.0,39.4 205.5,39.4 203.0,38.3 201.1,37.0 200.2,36.0 199.5,34.7 198.2,31.5 197.3,28.5 197.0,27.8 196.5,27.5 189.0,28.3 187.0,29.0 184.0,29.5 182.7,30.5 181.5,31.0 177.0,31.8 170.5,32.0 132.5,31.9 122.0,31.8 115.5,31.5 101.5,30.0 95.5,28.5 90.6,26.5 90.7,26.0 94.0,25.0 101.0,23.7 122.0,21.7 132.5,21.0 165.0,21.1 175.5,21.7 180.5,22.4 182.4,23.0 184.0,24.1 186.5,24.4 189.0,25.1 194.5,25.9 195.6,26.5 196.0,27.1 196.5,27.4 197.0,27.1 197.5,25.6 198.2,24.5 199.0,23.8 200.0,23.3 202.0,22.7 205.5,22.2 210.0,22.2 210.0,39.4Z" fill="#feeaa0" fill-rule="evenodd"/>
<path d="M169.5,29.5 165.0,29.9 132.5,29.9 122.0,29.7 115.5,29.2 101.0,27.1 99.3,26.5 99.8,26.0 101.0,25.8 123.4,23.0 132.5,22.3 148.0,22.2 159.5,22.3 165.5,22.6 168.5,22.9 172.2,23.5 175.0,24.2 181.0,26.0 181.2,26.5 179.5,27.3 175.0,28.7 169.5,29.5ZM210.0,37.2 207.0,36.6 205.4,36.0 203.9,34.0 202.4,31.5 203.1,29.5 203.8,28.0 205.0,26.6 205.5,26.3 210.0,25.7 210.0,37.2Z" fill="#fdd36c" fill-rule="evenodd"/>
<path d="M166.0,28.5 148.5,28.9 132.5,28.8 122.0,27.7 117.4,26.5 117.6,26.0 121.8,25.0 132.5,23.8 148.5,23.4 165.5,23.9 175.0,26.0 175.2,26.5 170.5,27.8 166.0,28.5ZM210.0,33.0 209.3,32.0 209.2,31.5 210.0,30.6 210.0,33.0Z" fill="#fcb440" fill-rule="evenodd"/>
<path d="M160.5,27.5 148.0,27.9 131.9,26.5 132.5,26.0 148.5,24.7 159.0,25.0 165.0,25.4 168.0,26.0 168.2,26.5 165.5,27.1 160.5,27.5Z" fill="#fb9a30" fill-rule="evenodd"/>
<use href="#land"/>
</g>
<rect x="0" y="0" width="210.10" height="52.80" fill="none" stroke="#1c1c1c" stroke-width="1.2"/>
<line x1="0.00" y1="52.80" x2="0.00" y2="54.80" stroke="#1c1c1c" stroke-width="0.7"/>
<text x="0.00" y="61.40" font-size="4.3" text-anchor="middle" fill="#111">120E</text>
<line x1="13.13" y1="52.80" x2="13.13" y2="53.90" stroke="#1c1c1c" stroke-width="0.7"/>
<line x1="26.26" y1="52.80" x2="26.26" y2="53.90" stroke="#1c1c1c" stroke-width="0.7"/>
<line x1="39.39" y1="52.80" x2="39.39" y2="54.80" stroke="#1c1c1c" stroke-width="0.7"/>
<text x="39.39" y="61.40" font-size="4.3" text-anchor="middle" fill="#111">150E</text>
<line x1="52.52" y1="52.80" x2="52.52" y2="53.90" stroke="#1c1c1c" stroke-width="0.7"/>
<line x1="65.66" y1="52.80" x2="65.66" y2="53.90" stroke="#1c1c1c" stroke-width="0.7"/>
<line x1="78.79" y1="52.80" x2="78.79" y2="54.80" stroke="#1c1c1c" stroke-width="0.7"/>
<text x="78.79" y="61.40" font-size="4.3" text-anchor="middle" fill="#111">180</text>
<line x1="91.92" y1="52.80" x2="91.92" y2="53.90" stroke="#1c1c1c" stroke-width="0.7"/>
<line x1="105.05" y1="52.80" x2="105.05" y2="53.90" stroke="#1c1c1c" stroke-width="0.7"/>
<line x1="118.18" y1="52.80" x2="118.18" y2="54.80" stroke="#1c1c1c" stroke-width="0.7"/>
<text x="118.18" y="61.40" font-size="4.3" text-anchor="middle" fill="#111">150W</text>
<line x1="131.31" y1="52.80" x2="131.31" y2="53.90" stroke="#1c1c1c" stroke-width="0.7"/>
<line x1="144.44" y1="52.80" x2="144.44" y2="53.90" stroke="#1c1c1c" stroke-width="0.7"/>
<line x1="157.57" y1="52.80" x2="157.57" y2="54.80" stroke="#1c1c1c" stroke-width="0.7"/>
<text x="157.57" y="61.40" font-size="4.3" text-anchor="middle" fill="#111">120W</text>
<line x1="170.70" y1="52.80" x2="170.70" y2="53.90" stroke="#1c1c1c" stroke-width="0.7"/>
<line x1="183.83" y1="52.80" x2="183.83" y2="53.90" stroke="#1c1c1c" stroke-width="0.7"/>
<line x1="196.97" y1="52.80" x2="196.97" y2="54.80" stroke="#1c1c1c" stroke-width="0.7"/>
<text x="196.97" y="61.40" font-size="4.3" text-anchor="middle" fill="#111">90W</text>
<line x1="210.10" y1="52.80" x2="210.10" y2="53.90" stroke="#1c1c1c" stroke-width="0.7"/>
<line x1="-2.00" y1="52.80" x2="0" y2="52.80" stroke="#1c1c1c" stroke-width="0.7"/>
<text x="-4.40" y="54.40" font-size="4.4" text-anchor="end" fill="#111">20S</text>
<line x1="-1.10" y1="46.20" x2="0" y2="46.20" stroke="#1c1c1c" stroke-width="0.7"/>
<line x1="-2.00" y1="39.60" x2="0" y2="39.60" stroke="#1c1c1c" stroke-width="0.7"/>
<text x="-4.40" y="41.20" font-size="4.4" text-anchor="end" fill="#111">10S</text>
<line x1="-1.10" y1="33.00" x2="0" y2="33.00" stroke="#1c1c1c" stroke-width="0.7"/>
<line x1="-2.00" y1="26.40" x2="0" y2="26.40" stroke="#1c1c1c" stroke-width="0.7"/>
<text x="-4.40" y="28.00" font-size="4.4" text-anchor="end" fill="#111">0</text>
<line x1="-1.10" y1="19.80" x2="0" y2="19.80" stroke="#1c1c1c" stroke-width="0.7"/>
<line x1="-2.00" y1="13.20" x2="0" y2="13.20" stroke="#1c1c1c" stroke-width="0.7"/>
<text x="-4.40" y="14.80" font-size="4.4" text-anchor="end" fill="#111">10N</text>
<line x1="-1.10" y1="6.60" x2="0" y2="6.60" stroke="#1c1c1c" stroke-width="0.7"/>
<line x1="-2.00" y1="0.00" x2="0" y2="0.00" stroke="#1c1c1c" stroke-width="0.7"/>
<text x="-4.40" y="1.60" font-size="4.4" text-anchor="end" fill="#111">20N</text>
</g>
<text x="458.50" y="430.60" font-size="12" text-anchor="start" font-weight="bold" fill="#000">k</text>
<text x="469.00" y="436.70" font-size="5.4" text-anchor="start" font-weight="normal" fill="#111">EP El Nino</text>
<text x="679.50" y="435.90" font-size="5.4" text-anchor="end" font-weight="normal" fill="#111">21<tspan font-size="3.8" dy="-2">st</tspan><tspan dy="2">C - 20</tspan><tspan font-size="3.8" dy="-2">th</tspan><tspan dy="2">C</tspan></text>
<path d="M129.90,507.20 L123.10,510.45 L129.90,513.70 Z" fill="#152a6e" stroke="#222" stroke-width="0.7"/>
<path d="M328.80,507.20 L335.60,510.45 L328.80,513.70 Z" fill="#a81a26" stroke="#222" stroke-width="0.7"/>
<rect x="129.90" y="507.20" width="6.63" height="6.50" fill="#1f3e8c" stroke="#222" stroke-width="0.7"/>
<rect x="136.53" y="507.20" width="6.63" height="6.50" fill="#234f9e" stroke="#222" stroke-width="0.7"/>
<rect x="143.16" y="507.20" width="6.63" height="6.50" fill="#2b64b6" stroke="#222" stroke-width="0.7"/>
<rect x="149.79" y="507.20" width="6.63" height="6.50" fill="#3d7cc6" stroke="#222" stroke-width="0.7"/>
<rect x="156.42" y="507.20" width="6.63" height="6.50" fill="#4c90d3" stroke="#222" stroke-width="0.7"/>
<rect x="163.05" y="507.20" width="6.63" height="6.50" fill="#5aa2dc" stroke="#222" stroke-width="0.7"/>
<rect x="169.68" y="507.20" width="6.63" height="6.50" fill="#6ab4e6" stroke="#222" stroke-width="0.7"/>
<rect x="176.31" y="507.20" width="6.63" height="6.50" fill="#82c4ee" stroke="#222" stroke-width="0.7"/>
<rect x="182.94" y="507.20" width="6.63" height="6.50" fill="#9dd4f3" stroke="#222" stroke-width="0.7"/>
<rect x="189.57" y="507.20" width="6.63" height="6.50" fill="#b3def5" stroke="#222" stroke-width="0.7"/>
<rect x="196.20" y="507.20" width="6.63" height="6.50" fill="#c8e8f8" stroke="#222" stroke-width="0.7"/>
<rect x="202.83" y="507.20" width="6.63" height="6.50" fill="#d9eefa" stroke="#222" stroke-width="0.7"/>
<rect x="209.46" y="507.20" width="6.63" height="6.50" fill="#eaf5fc" stroke="#222" stroke-width="0.7"/>
<rect x="216.09" y="507.20" width="6.63" height="6.50" fill="#ffffff" stroke="#222" stroke-width="0.7"/>
<rect x="222.72" y="507.20" width="6.63" height="6.50" fill="#ffffff" stroke="#222" stroke-width="0.7"/>
<rect x="229.35" y="507.20" width="6.63" height="6.50" fill="#ffffff" stroke="#222" stroke-width="0.7"/>
<rect x="235.98" y="507.20" width="6.63" height="6.50" fill="#ffffff" stroke="#222" stroke-width="0.7"/>
<rect x="242.61" y="507.20" width="6.63" height="6.50" fill="#fff4c9" stroke="#222" stroke-width="0.7"/>
<rect x="249.24" y="507.20" width="6.63" height="6.50" fill="#feeaa6" stroke="#222" stroke-width="0.7"/>
<rect x="255.87" y="507.20" width="6.63" height="6.50" fill="#fde38a" stroke="#222" stroke-width="0.7"/>
<rect x="262.50" y="507.20" width="6.63" height="6.50" fill="#fdd36c" stroke="#222" stroke-width="0.7"/>
<rect x="269.13" y="507.20" width="6.63" height="6.50" fill="#fdbf4a" stroke="#222" stroke-width="0.7"/>
<rect x="275.76" y="507.20" width="6.63" height="6.50" fill="#fca936" stroke="#222" stroke-width="0.7"/>
<rect x="282.39" y="507.20" width="6.63" height="6.50" fill="#fb9430" stroke="#222" stroke-width="0.7"/>
<rect x="289.02" y="507.20" width="6.63" height="6.50" fill="#f7762a" stroke="#222" stroke-width="0.7"/>
<rect x="295.65" y="507.20" width="6.63" height="6.50" fill="#f15d29" stroke="#222" stroke-width="0.7"/>
<rect x="302.28" y="507.20" width="6.63" height="6.50" fill="#e94527" stroke="#222" stroke-width="0.7"/>
<rect x="308.91" y="507.20" width="6.63" height="6.50" fill="#dc2b2a" stroke="#222" stroke-width="0.7"/>
<rect x="315.54" y="507.20" width="6.63" height="6.50" fill="#d2242e" stroke="#222" stroke-width="0.7"/>
<rect x="322.17" y="507.20" width="6.63" height="6.50" fill="#c01f2b" stroke="#222" stroke-width="0.7"/>
<text x="136.53" y="519.40" font-size="5.8" text-anchor="middle" font-weight="normal" fill="#111">-2.8</text>
<text x="149.79" y="519.40" font-size="5.8" text-anchor="middle" font-weight="normal" fill="#111">-2.4</text>
<text x="163.05" y="519.40" font-size="5.8" text-anchor="middle" font-weight="normal" fill="#111">-2</text>
<text x="176.31" y="519.40" font-size="5.8" text-anchor="middle" font-weight="normal" fill="#111">-1.6</text>
<text x="189.57" y="519.40" font-size="5.8" text-anchor="middle" font-weight="normal" fill="#111">-1.2</text>
<text x="202.83" y="519.40" font-size="5.8" text-anchor="middle" font-weight="normal" fill="#111">-0.8</text>
<text x="216.09" y="519.40" font-size="5.8" text-anchor="middle" font-weight="normal" fill="#111">-0.4</text>
<text x="229.35" y="519.40" font-size="5.8" text-anchor="middle" font-weight="normal" fill="#111">0</text>
<text x="242.61" y="519.40" font-size="5.8" text-anchor="middle" font-weight="normal" fill="#111">0.4</text>
<text x="255.87" y="519.40" font-size="5.8" text-anchor="middle" font-weight="normal" fill="#111">0.8</text>
<text x="269.13" y="519.40" font-size="5.8" text-anchor="middle" font-weight="normal" fill="#111">1.2</text>
<text x="282.39" y="519.40" font-size="5.8" text-anchor="middle" font-weight="normal" fill="#111">1.6</text>
<text x="295.65" y="519.40" font-size="5.8" text-anchor="middle" font-weight="normal" fill="#111">2</text>
<text x="308.91" y="519.40" font-size="5.8" text-anchor="middle" font-weight="normal" fill="#111">2.4</text>
<text x="322.17" y="519.40" font-size="5.8" text-anchor="middle" font-weight="normal" fill="#111">2.8</text>
<path d="M477.30,509.60 L467.90,512.80 L477.30,516.00 Z" fill="#152a6e" stroke="#222" stroke-width="0.7"/>
<path d="M670.10,509.60 L679.50,512.80 L670.10,516.00 Z" fill="#b01c28" stroke="#222" stroke-width="0.7"/>
<rect x="477.30" y="509.60" width="9.64" height="6.40" fill="#1f4a98" stroke="#222" stroke-width="0.7"/>
<rect x="486.94" y="509.60" width="9.64" height="6.40" fill="#2a62b4" stroke="#222" stroke-width="0.7"/>
<rect x="496.58" y="509.60" width="9.64" height="6.40" fill="#3a7cc6" stroke="#222" stroke-width="0.7"/>
<rect x="506.22" y="509.60" width="9.64" height="6.40" fill="#52a0dc" stroke="#222" stroke-width="0.7"/>
<rect x="515.86" y="509.60" width="9.64" height="6.40" fill="#6ab6e6" stroke="#222" stroke-width="0.7"/>
<rect x="525.50" y="509.60" width="9.64" height="6.40" fill="#8ccaf0" stroke="#222" stroke-width="0.7"/>
<rect x="535.14" y="509.60" width="9.64" height="6.40" fill="#b0dcf4" stroke="#222" stroke-width="0.7"/>
<rect x="544.78" y="509.60" width="9.64" height="6.40" fill="#d4ecf9" stroke="#222" stroke-width="0.7"/>
<rect x="554.42" y="509.60" width="9.64" height="6.40" fill="#ebf5fc" stroke="#222" stroke-width="0.7"/>
<rect x="564.06" y="509.60" width="9.64" height="6.40" fill="#ffffff" stroke="#222" stroke-width="0.7"/>
<rect x="573.70" y="509.60" width="9.64" height="6.40" fill="#ffffff" stroke="#222" stroke-width="0.7"/>
<rect x="583.34" y="509.60" width="9.64" height="6.40" fill="#fff6d4" stroke="#222" stroke-width="0.7"/>
<rect x="592.98" y="509.60" width="9.64" height="6.40" fill="#feeaa0" stroke="#222" stroke-width="0.7"/>
<rect x="602.62" y="509.60" width="9.64" height="6.40" fill="#fdd36c" stroke="#222" stroke-width="0.7"/>
<rect x="612.26" y="509.60" width="9.64" height="6.40" fill="#fcb440" stroke="#222" stroke-width="0.7"/>
<rect x="621.90" y="509.60" width="9.64" height="6.40" fill="#fb9a30" stroke="#222" stroke-width="0.7"/>
<rect x="631.54" y="509.60" width="9.64" height="6.40" fill="#f77a2a" stroke="#222" stroke-width="0.7"/>
<rect x="641.18" y="509.60" width="9.64" height="6.40" fill="#ef5a2a" stroke="#222" stroke-width="0.7"/>
<rect x="650.82" y="509.60" width="9.64" height="6.40" fill="#dc2c2c" stroke="#222" stroke-width="0.7"/>
<rect x="660.46" y="509.60" width="9.64" height="6.40" fill="#c82230" stroke="#222" stroke-width="0.7"/>
<text x="477.30" y="521.70" font-size="5.8" text-anchor="middle" font-weight="normal" fill="#111">-1</text>
<text x="496.58" y="521.70" font-size="5.8" text-anchor="middle" font-weight="normal" fill="#111">-0.8</text>
<text x="515.86" y="521.70" font-size="5.8" text-anchor="middle" font-weight="normal" fill="#111">-0.6</text>
<text x="535.14" y="521.70" font-size="5.8" text-anchor="middle" font-weight="normal" fill="#111">-0.4</text>
<text x="554.42" y="521.70" font-size="5.8" text-anchor="middle" font-weight="normal" fill="#111">-0.2</text>
<text x="573.70" y="521.70" font-size="5.8" text-anchor="middle" font-weight="normal" fill="#111">0</text>
<text x="592.98" y="521.70" font-size="5.8" text-anchor="middle" font-weight="normal" fill="#111">0.2</text>
<text x="612.26" y="521.70" font-size="5.8" text-anchor="middle" font-weight="normal" fill="#111">0.4</text>
<text x="631.54" y="521.70" font-size="5.8" text-anchor="middle" font-weight="normal" fill="#111">0.6</text>
<text x="650.82" y="521.70" font-size="5.8" text-anchor="middle" font-weight="normal" fill="#111">0.8</text>
<text x="670.10" y="521.70" font-size="5.8" text-anchor="middle" font-weight="normal" fill="#111">1</text>
</g></svg>
</body></html>
